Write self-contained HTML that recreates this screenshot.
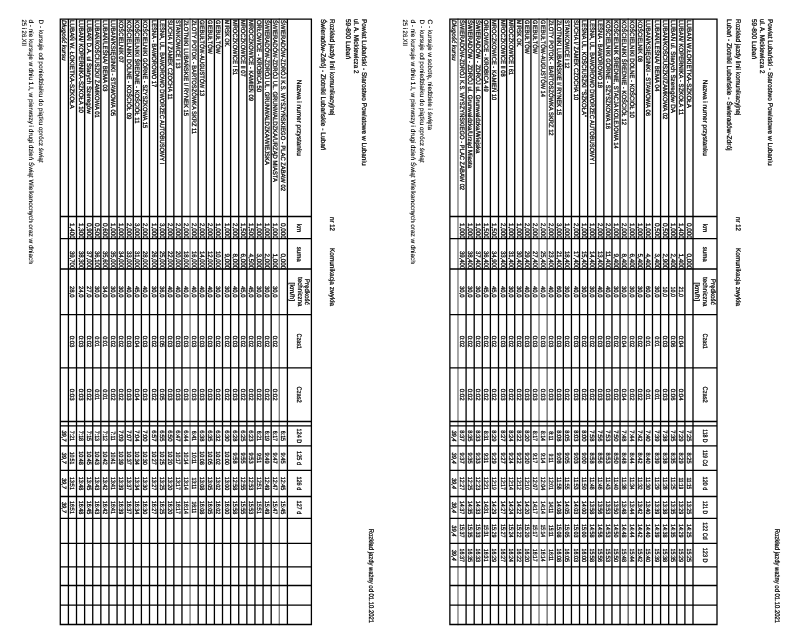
<!DOCTYPE html>
<html lang="pl">
<head>
<meta charset="utf-8">
<title>Rozkład jazdy linii komunikacyjnej nr 12 – Powiat Lubański</title>
<style>
html,body{margin:0;padding:0;background:#fff;}
body{width:800px;height:644px;overflow:hidden;}
svg{display:block;font-family:"Liberation Sans",sans-serif;}
text{white-space:pre;}
</style>
</head>
<body>
<svg width="800" height="644" viewBox="0 0 800 644">
<rect width="800" height="644" fill="#fff"/>
<defs><filter id="soft" x="-2%" y="-2%" width="104%" height="104%"><feGaussianBlur stdDeviation="0.35"/></filter></defs>
<g transform="translate(800,0) rotate(90)">
<path d="M18.40 171.83H625.15" fill="none" stroke="#555" stroke-width="1.3"/>
<path d="M18.40 252.87H625.15" fill="none" stroke="#666" stroke-width="1.3"/>
<path d="M18.40 260.98H625.15" fill="none" stroke="#7a7a7a" stroke-width="1.3"/>
<path d="M18.40 342.02H625.15" fill="none" stroke="#7a7a7a" stroke-width="1.3"/>
<path d="M18.40 83.00H625.15M18.40 107.00H625.15M18.40 115.10H625.15M18.40 123.21H625.15M18.40 131.31H625.15M18.40 139.42H625.15M18.40 147.52H625.15M18.40 155.62H625.15M18.40 163.73H625.15M18.40 179.94H625.15M18.40 188.04H625.15M18.40 196.14H625.15M18.40 204.25H625.15M18.40 212.35H625.15M18.40 220.46H625.15M18.40 228.56H625.15M18.40 236.66H625.15M18.40 244.77H625.15M18.40 269.08H625.15M18.40 277.18H625.15M18.40 285.29H625.15M18.40 293.39H625.15M18.40 301.50H625.15M18.40 309.60H625.15M18.40 317.70H625.15M18.40 325.81H625.15M18.40 333.91H625.15M18.40 350.12H625.15M19.05 83.00V350.12M216.50 83.00V350.12M238.60 83.00V350.12M269.00 83.00V350.12M314.60 83.00V350.12M367.80 83.00V350.12M421.50 83.00V350.12M425.90 83.00V350.12M445.90 83.00V350.12M470.30 83.00V350.12M496.50 83.00V350.12M518.30 83.00V350.12M543.40 83.00V350.12M566.90 83.00V350.12M585.50 83.00V350.12M605.10 83.00V350.12M624.50 83.00V350.12" fill="none" stroke="#000" stroke-width="1.3"/>
<path d="M18.40 520.71H625.15" fill="none" stroke="#7a7a7a" stroke-width="1.3"/>
<path d="M18.40 609.93H625.15" fill="none" stroke="#7a7a7a" stroke-width="1.3"/>
<path d="M18.40 488.60H625.15M18.40 512.60H625.15M18.40 528.82H625.15M18.40 536.93H625.15M18.40 545.04H625.15M18.40 553.15H625.15M18.40 561.27H625.15M18.40 569.38H625.15M18.40 577.49H625.15M18.40 585.60H625.15M18.40 593.71H625.15M18.40 601.82H625.15M18.40 618.04H625.15M18.40 626.15H625.15M18.40 634.26H625.15M18.40 642.38H625.15M18.40 650.49H625.15M18.40 658.60H625.15M18.40 666.71H625.15M18.40 674.82H625.15M18.40 682.93H625.15M18.40 691.04H625.15M18.40 699.15H625.15M18.40 707.26H625.15M18.40 715.38H625.15M18.40 723.49H625.15M18.40 731.60H625.15M18.40 739.71H625.15M19.05 488.60V739.71M216.50 488.60V739.71M238.60 488.60V739.71M269.00 488.60V739.71M314.60 488.60V739.71M367.80 488.60V739.71M421.50 488.60V739.71M425.90 488.60V739.71M445.90 488.60V739.71M470.30 488.60V739.71M496.50 488.60V739.71M518.30 488.60V739.71M543.40 488.60V739.71M566.90 488.60V739.71M585.50 488.60V739.71M605.10 488.60V739.71M624.50 488.60V739.71" fill="none" stroke="#000" stroke-width="1.3"/>
</g>
<g filter="url(#soft)">
<g transform="translate(800,0) rotate(90)" text-rendering="geometricPrecision" stroke="#000" stroke-width="0.26" stroke-linejoin="round">
<text x="623.00" y="25.04" font-size="6.8" text-anchor="end" textLength="94.20" lengthAdjust="spacingAndGlyphs" fill="#000">Rozkład jazdy ważny od 01.10.2021</text>
<text x="19.00" y="32.04" font-size="6.8" textLength="146.50" lengthAdjust="spacingAndGlyphs" fill="#000">Powiat Lubański - Starostwo Powiatowe w Lubaniu</text>
<text x="19.00" y="39.79" font-size="6.8" textLength="54.50" lengthAdjust="spacingAndGlyphs" fill="#000">ul. A. Mickiewicza 2</text>
<text x="19.00" y="48.04" font-size="6.8" textLength="40.00" lengthAdjust="spacingAndGlyphs" fill="#000">59-800 Lubań</text>
<text x="19.00" y="63.84" font-size="6.8" textLength="96.50" lengthAdjust="spacingAndGlyphs" fill="#000">Rozkład jazdy linii komunikacyjnej</text>
<text x="19.00" y="73.04" font-size="6.8" textLength="131.50" lengthAdjust="spacingAndGlyphs" fill="#000">Lubań - Złotniki Lubańskie - Świeradów-Zdrój</text>
<text x="217.00" y="63.84" font-size="6.8" textLength="14.00" lengthAdjust="spacingAndGlyphs" fill="#000">nr 12</text>
<text x="248.00" y="63.84" font-size="6.8" textLength="58.00" lengthAdjust="spacingAndGlyphs" fill="#000">Komunikacja zwykła</text>
<clipPath id="ck1"><rect x="216.5" y="83.0" width="22.099999999999994" height="267.12"/></clipPath>
<clipPath id="cs1"><rect x="238.6" y="83.0" width="30.400000000000006" height="267.12"/></clipPath>
<text x="117.78" y="96.98" font-size="6.6" text-anchor="middle" textLength="76.00" lengthAdjust="spacingAndGlyphs" fill="#000">Nazwa i numer przystanku</text>
<text x="228.05" y="96.98" font-size="6.6" text-anchor="middle" textLength="8.50" lengthAdjust="spacingAndGlyphs" fill="#000">km</text>
<text x="254.20" y="96.98" font-size="6.6" text-anchor="middle" textLength="15.00" lengthAdjust="spacingAndGlyphs" fill="#000">suma</text>
<text x="291.80" y="89.18" font-size="6.6" text-anchor="middle" textLength="26.00" lengthAdjust="spacingAndGlyphs" fill="#000">Prędkość</text>
<text x="291.80" y="96.88" font-size="6.6" text-anchor="middle" textLength="29.50" lengthAdjust="spacingAndGlyphs" fill="#000">techniczna</text>
<text x="291.80" y="104.58" font-size="6.6" text-anchor="middle" textLength="18.50" lengthAdjust="spacingAndGlyphs" fill="#000">[km/h]</text>
<text x="341.20" y="96.98" font-size="6.6" text-anchor="middle" textLength="15.30" lengthAdjust="spacingAndGlyphs" fill="#000">Czas1</text>
<text x="394.65" y="96.98" font-size="6.6" text-anchor="middle" textLength="16.20" lengthAdjust="spacingAndGlyphs" fill="#000">Czas2</text>
<text x="435.90" y="96.98" font-size="6.5" text-anchor="middle" textLength="13.37" lengthAdjust="spacingAndGlyphs" fill="#000">118 D</text>
<text x="458.10" y="96.98" font-size="6.5" text-anchor="middle" textLength="16.05" lengthAdjust="spacingAndGlyphs" fill="#000">119 Cd</text>
<text x="483.40" y="96.98" font-size="6.5" text-anchor="middle" textLength="13.96" lengthAdjust="spacingAndGlyphs" fill="#000">120 d</text>
<text x="507.40" y="96.98" font-size="6.5" text-anchor="middle" textLength="13.37" lengthAdjust="spacingAndGlyphs" fill="#000">121 D</text>
<text x="530.85" y="96.98" font-size="6.5" text-anchor="middle" textLength="17.39" lengthAdjust="spacingAndGlyphs" fill="#000">122 Cd</text>
<text x="555.15" y="96.98" font-size="6.5" text-anchor="middle" textLength="14.71" lengthAdjust="spacingAndGlyphs" fill="#000">123 D</text>
<text x="20.00" y="113.05" font-size="6.3" textLength="88.10" lengthAdjust="spacingAndGlyphs" fill="#000">LUBAŃ W.ŁOKIETKA-SZKOŁA</text>
<g clip-path="url(#ck1)">
<text x="238.90" y="113.05" font-size="6.5" text-anchor="end" textLength="15.80" lengthAdjust="spacingAndGlyphs" fill="#000">0,000</text>
</g>
<g clip-path="url(#cs1)">
<text x="269.30" y="113.05" font-size="6.5" text-anchor="end" textLength="15.80" lengthAdjust="spacingAndGlyphs" fill="#000">0,000</text>
</g>
<text x="435.90" y="113.05" font-size="6.2" text-anchor="middle" textLength="11.15" lengthAdjust="spacingAndGlyphs" fill="#000">7:25</text>
<text x="458.10" y="113.05" font-size="6.2" text-anchor="middle" textLength="11.15" lengthAdjust="spacingAndGlyphs" fill="#000">8:25</text>
<text x="483.40" y="113.05" font-size="6.2" text-anchor="middle" textLength="11.80" lengthAdjust="spacingAndGlyphs" fill="#000">11:15</text>
<text x="507.40" y="113.05" font-size="6.2" text-anchor="middle" textLength="13.50" lengthAdjust="spacingAndGlyphs" fill="#000">13:25</text>
<text x="530.85" y="113.05" font-size="6.2" text-anchor="middle" textLength="13.50" lengthAdjust="spacingAndGlyphs" fill="#000">14:25</text>
<text x="555.15" y="113.05" font-size="6.2" text-anchor="middle" textLength="13.50" lengthAdjust="spacingAndGlyphs" fill="#000">15:25</text>
<text x="20.00" y="121.15" font-size="6.3" textLength="95.00" lengthAdjust="spacingAndGlyphs" fill="#000">LUBAŃ/ KOPERNIKA - SZKOŁA 11</text>
<g clip-path="url(#ck1)">
<text x="238.90" y="121.15" font-size="6.5" text-anchor="end" textLength="15.80" lengthAdjust="spacingAndGlyphs" fill="#000">1,400</text>
</g>
<g clip-path="url(#cs1)">
<text x="269.30" y="121.15" font-size="6.5" text-anchor="end" textLength="15.80" lengthAdjust="spacingAndGlyphs" fill="#000">1,400</text>
</g>
<text x="291.80" y="121.15" font-size="6.2" text-anchor="middle" textLength="10.70" lengthAdjust="spacingAndGlyphs" fill="#000">21,0</text>
<text x="341.50" y="121.15" font-size="6.2" text-anchor="middle" textLength="11.60" lengthAdjust="spacingAndGlyphs" fill="#000">0:04</text>
<text x="394.65" y="121.15" font-size="6.2" text-anchor="middle" textLength="11.60" lengthAdjust="spacingAndGlyphs" fill="#000">0:04</text>
<text x="435.90" y="121.15" font-size="6.2" text-anchor="middle" textLength="11.15" lengthAdjust="spacingAndGlyphs" fill="#000">7:29</text>
<text x="458.10" y="121.15" font-size="6.2" text-anchor="middle" textLength="11.15" lengthAdjust="spacingAndGlyphs" fill="#000">8:29</text>
<text x="483.40" y="121.15" font-size="6.2" text-anchor="middle" textLength="11.80" lengthAdjust="spacingAndGlyphs" fill="#000">11:19</text>
<text x="507.40" y="121.15" font-size="6.2" text-anchor="middle" textLength="13.50" lengthAdjust="spacingAndGlyphs" fill="#000">13:29</text>
<text x="530.85" y="121.15" font-size="6.2" text-anchor="middle" textLength="13.50" lengthAdjust="spacingAndGlyphs" fill="#000">14:29</text>
<text x="555.15" y="121.15" font-size="6.2" text-anchor="middle" textLength="13.50" lengthAdjust="spacingAndGlyphs" fill="#000">15:29</text>
<text x="20.00" y="129.26" font-size="6.3" textLength="93.00" lengthAdjust="spacingAndGlyphs" fill="#000">LUBAŃ ul. Starych Szeregów DA</text>
<g clip-path="url(#ck1)">
<text x="238.90" y="129.26" font-size="6.5" text-anchor="end" textLength="15.80" lengthAdjust="spacingAndGlyphs" fill="#000">1,000</text>
</g>
<g clip-path="url(#cs1)">
<text x="269.30" y="129.26" font-size="6.5" text-anchor="end" textLength="15.80" lengthAdjust="spacingAndGlyphs" fill="#000">2,400</text>
</g>
<text x="291.80" y="129.26" font-size="6.2" text-anchor="middle" textLength="10.70" lengthAdjust="spacingAndGlyphs" fill="#000">10,0</text>
<text x="341.50" y="129.26" font-size="6.2" text-anchor="middle" textLength="11.60" lengthAdjust="spacingAndGlyphs" fill="#000">0:06</text>
<text x="394.65" y="129.26" font-size="6.2" text-anchor="middle" textLength="11.60" lengthAdjust="spacingAndGlyphs" fill="#000">0:06</text>
<text x="435.90" y="129.26" font-size="6.2" text-anchor="middle" textLength="11.15" lengthAdjust="spacingAndGlyphs" fill="#000">7:35</text>
<text x="458.10" y="129.26" font-size="6.2" text-anchor="middle" textLength="11.15" lengthAdjust="spacingAndGlyphs" fill="#000">8:35</text>
<text x="483.40" y="129.26" font-size="6.2" text-anchor="middle" textLength="12.65" lengthAdjust="spacingAndGlyphs" fill="#000">11:25</text>
<text x="507.40" y="129.26" font-size="6.2" text-anchor="middle" textLength="13.50" lengthAdjust="spacingAndGlyphs" fill="#000">13:35</text>
<text x="530.85" y="129.26" font-size="6.2" text-anchor="middle" textLength="13.50" lengthAdjust="spacingAndGlyphs" fill="#000">14:35</text>
<text x="555.15" y="129.26" font-size="6.2" text-anchor="middle" textLength="13.50" lengthAdjust="spacingAndGlyphs" fill="#000">15:35</text>
<text x="20.00" y="137.36" font-size="6.3" textLength="99.40" lengthAdjust="spacingAndGlyphs" fill="#000">LUBAŃ/KOŚCIUSZKI/ZAMKOWA 02</text>
<g clip-path="url(#ck1)">
<text x="238.90" y="137.36" font-size="6.5" text-anchor="end" textLength="15.80" lengthAdjust="spacingAndGlyphs" fill="#000">0,500</text>
</g>
<g clip-path="url(#cs1)">
<text x="269.30" y="137.36" font-size="6.5" text-anchor="end" textLength="15.80" lengthAdjust="spacingAndGlyphs" fill="#000">2,900</text>
</g>
<text x="291.80" y="137.36" font-size="6.2" text-anchor="middle" textLength="10.70" lengthAdjust="spacingAndGlyphs" fill="#000">10,0</text>
<text x="341.50" y="137.36" font-size="6.2" text-anchor="middle" textLength="11.60" lengthAdjust="spacingAndGlyphs" fill="#000">0:03</text>
<text x="394.65" y="137.36" font-size="6.2" text-anchor="middle" textLength="11.60" lengthAdjust="spacingAndGlyphs" fill="#000">0:03</text>
<text x="435.90" y="137.36" font-size="6.2" text-anchor="middle" textLength="11.15" lengthAdjust="spacingAndGlyphs" fill="#000">7:38</text>
<text x="458.10" y="137.36" font-size="6.2" text-anchor="middle" textLength="11.15" lengthAdjust="spacingAndGlyphs" fill="#000">8:38</text>
<text x="483.40" y="137.36" font-size="6.2" text-anchor="middle" textLength="12.65" lengthAdjust="spacingAndGlyphs" fill="#000">11:28</text>
<text x="507.40" y="137.36" font-size="6.2" text-anchor="middle" textLength="13.50" lengthAdjust="spacingAndGlyphs" fill="#000">13:38</text>
<text x="530.85" y="137.36" font-size="6.2" text-anchor="middle" textLength="13.50" lengthAdjust="spacingAndGlyphs" fill="#000">14:38</text>
<text x="555.15" y="137.36" font-size="6.2" text-anchor="middle" textLength="13.50" lengthAdjust="spacingAndGlyphs" fill="#000">15:38</text>
<text x="20.00" y="145.47" font-size="6.3" textLength="71.30" lengthAdjust="spacingAndGlyphs" fill="#000">LUBAŃ/LEŚNA/ BEMA 04</text>
<g clip-path="url(#ck1)">
<text x="238.90" y="145.47" font-size="6.5" text-anchor="end" textLength="15.80" lengthAdjust="spacingAndGlyphs" fill="#000">0,500</text>
</g>
<g clip-path="url(#cs1)">
<text x="269.30" y="145.47" font-size="6.5" text-anchor="end" textLength="15.80" lengthAdjust="spacingAndGlyphs" fill="#000">3,400</text>
</g>
<text x="291.80" y="145.47" font-size="6.2" text-anchor="middle" textLength="11.60" lengthAdjust="spacingAndGlyphs" fill="#000">30,0</text>
<text x="341.50" y="145.47" font-size="6.2" text-anchor="middle" textLength="10.70" lengthAdjust="spacingAndGlyphs" fill="#000">0:01</text>
<text x="394.65" y="145.47" font-size="6.2" text-anchor="middle" textLength="10.70" lengthAdjust="spacingAndGlyphs" fill="#000">0:01</text>
<text x="435.90" y="145.47" font-size="6.2" text-anchor="middle" textLength="11.15" lengthAdjust="spacingAndGlyphs" fill="#000">7:39</text>
<text x="458.10" y="145.47" font-size="6.2" text-anchor="middle" textLength="11.15" lengthAdjust="spacingAndGlyphs" fill="#000">8:39</text>
<text x="483.40" y="145.47" font-size="6.2" text-anchor="middle" textLength="12.65" lengthAdjust="spacingAndGlyphs" fill="#000">11:29</text>
<text x="507.40" y="145.47" font-size="6.2" text-anchor="middle" textLength="13.50" lengthAdjust="spacingAndGlyphs" fill="#000">13:39</text>
<text x="530.85" y="145.47" font-size="6.2" text-anchor="middle" textLength="13.50" lengthAdjust="spacingAndGlyphs" fill="#000">14:39</text>
<text x="555.15" y="145.47" font-size="6.2" text-anchor="middle" textLength="13.50" lengthAdjust="spacingAndGlyphs" fill="#000">15:39</text>
<text x="20.00" y="153.57" font-size="6.3" textLength="96.10" lengthAdjust="spacingAndGlyphs" fill="#000">LUBAŃ/KSIĘGINKI - STAWOWA 06</text>
<g clip-path="url(#ck1)">
<text x="238.90" y="153.57" font-size="6.5" text-anchor="end" textLength="15.80" lengthAdjust="spacingAndGlyphs" fill="#000">1,000</text>
</g>
<g clip-path="url(#cs1)">
<text x="269.30" y="153.57" font-size="6.5" text-anchor="end" textLength="15.80" lengthAdjust="spacingAndGlyphs" fill="#000">4,400</text>
</g>
<text x="291.80" y="153.57" font-size="6.2" text-anchor="middle" textLength="11.60" lengthAdjust="spacingAndGlyphs" fill="#000">60,0</text>
<text x="341.50" y="153.57" font-size="6.2" text-anchor="middle" textLength="10.70" lengthAdjust="spacingAndGlyphs" fill="#000">0:01</text>
<text x="394.65" y="153.57" font-size="6.2" text-anchor="middle" textLength="10.70" lengthAdjust="spacingAndGlyphs" fill="#000">0:01</text>
<text x="435.90" y="153.57" font-size="6.2" text-anchor="middle" textLength="11.15" lengthAdjust="spacingAndGlyphs" fill="#000">7:40</text>
<text x="458.10" y="153.57" font-size="6.2" text-anchor="middle" textLength="11.15" lengthAdjust="spacingAndGlyphs" fill="#000">8:40</text>
<text x="483.40" y="153.57" font-size="6.2" text-anchor="middle" textLength="12.65" lengthAdjust="spacingAndGlyphs" fill="#000">11:30</text>
<text x="507.40" y="153.57" font-size="6.2" text-anchor="middle" textLength="13.50" lengthAdjust="spacingAndGlyphs" fill="#000">13:40</text>
<text x="530.85" y="153.57" font-size="6.2" text-anchor="middle" textLength="13.50" lengthAdjust="spacingAndGlyphs" fill="#000">14:40</text>
<text x="555.15" y="153.57" font-size="6.2" text-anchor="middle" textLength="13.50" lengthAdjust="spacingAndGlyphs" fill="#000">15:40</text>
<text x="20.00" y="161.67" font-size="6.3" textLength="42.00" lengthAdjust="spacingAndGlyphs" fill="#000">KOŚCIELNIK 08</text>
<g clip-path="url(#ck1)">
<text x="238.90" y="161.67" font-size="6.5" text-anchor="end" textLength="15.80" lengthAdjust="spacingAndGlyphs" fill="#000">1,000</text>
</g>
<g clip-path="url(#cs1)">
<text x="269.30" y="161.67" font-size="6.5" text-anchor="end" textLength="15.80" lengthAdjust="spacingAndGlyphs" fill="#000">5,400</text>
</g>
<text x="291.80" y="161.67" font-size="6.2" text-anchor="middle" textLength="11.60" lengthAdjust="spacingAndGlyphs" fill="#000">30,0</text>
<text x="341.50" y="161.67" font-size="6.2" text-anchor="middle" textLength="11.60" lengthAdjust="spacingAndGlyphs" fill="#000">0:02</text>
<text x="394.65" y="161.67" font-size="6.2" text-anchor="middle" textLength="11.60" lengthAdjust="spacingAndGlyphs" fill="#000">0:02</text>
<text x="435.90" y="161.67" font-size="6.2" text-anchor="middle" textLength="11.15" lengthAdjust="spacingAndGlyphs" fill="#000">7:42</text>
<text x="458.10" y="161.67" font-size="6.2" text-anchor="middle" textLength="11.15" lengthAdjust="spacingAndGlyphs" fill="#000">8:42</text>
<text x="483.40" y="161.67" font-size="6.2" text-anchor="middle" textLength="12.65" lengthAdjust="spacingAndGlyphs" fill="#000">11:32</text>
<text x="507.40" y="161.67" font-size="6.2" text-anchor="middle" textLength="13.50" lengthAdjust="spacingAndGlyphs" fill="#000">13:42</text>
<text x="530.85" y="161.67" font-size="6.2" text-anchor="middle" textLength="13.50" lengthAdjust="spacingAndGlyphs" fill="#000">14:42</text>
<text x="555.15" y="161.67" font-size="6.2" text-anchor="middle" textLength="13.50" lengthAdjust="spacingAndGlyphs" fill="#000">15:42</text>
<text x="20.00" y="169.78" font-size="6.3" textLength="97.80" lengthAdjust="spacingAndGlyphs" fill="#000">KOŚCIELNIKI DOLNE - KOŚCIÓŁ 10</text>
<g clip-path="url(#ck1)">
<text x="238.90" y="169.78" font-size="6.5" text-anchor="end" textLength="15.80" lengthAdjust="spacingAndGlyphs" fill="#000">1,000</text>
</g>
<g clip-path="url(#cs1)">
<text x="269.30" y="169.78" font-size="6.5" text-anchor="end" textLength="15.80" lengthAdjust="spacingAndGlyphs" fill="#000">6,400</text>
</g>
<text x="291.80" y="169.78" font-size="6.2" text-anchor="middle" textLength="11.60" lengthAdjust="spacingAndGlyphs" fill="#000">30,0</text>
<text x="341.50" y="169.78" font-size="6.2" text-anchor="middle" textLength="11.60" lengthAdjust="spacingAndGlyphs" fill="#000">0:02</text>
<text x="394.65" y="169.78" font-size="6.2" text-anchor="middle" textLength="11.60" lengthAdjust="spacingAndGlyphs" fill="#000">0:02</text>
<text x="435.90" y="169.78" font-size="6.2" text-anchor="middle" textLength="11.15" lengthAdjust="spacingAndGlyphs" fill="#000">7:44</text>
<text x="458.10" y="169.78" font-size="6.2" text-anchor="middle" textLength="11.15" lengthAdjust="spacingAndGlyphs" fill="#000">8:44</text>
<text x="483.40" y="169.78" font-size="6.2" text-anchor="middle" textLength="12.65" lengthAdjust="spacingAndGlyphs" fill="#000">11:34</text>
<text x="507.40" y="169.78" font-size="6.2" text-anchor="middle" textLength="13.50" lengthAdjust="spacingAndGlyphs" fill="#000">13:44</text>
<text x="530.85" y="169.78" font-size="6.2" text-anchor="middle" textLength="13.50" lengthAdjust="spacingAndGlyphs" fill="#000">14:44</text>
<text x="555.15" y="169.78" font-size="6.2" text-anchor="middle" textLength="13.50" lengthAdjust="spacingAndGlyphs" fill="#000">15:44</text>
<text x="20.00" y="177.88" font-size="6.3" textLength="105.10" lengthAdjust="spacingAndGlyphs" fill="#000">KOŚCIELNIKI ŚREDNIE - KOŚCIÓŁ 12</text>
<g clip-path="url(#ck1)">
<text x="238.90" y="177.88" font-size="6.5" text-anchor="end" textLength="15.80" lengthAdjust="spacingAndGlyphs" fill="#000">2,000</text>
</g>
<g clip-path="url(#cs1)">
<text x="269.30" y="177.88" font-size="6.5" text-anchor="end" textLength="15.80" lengthAdjust="spacingAndGlyphs" fill="#000">8,400</text>
</g>
<text x="291.80" y="177.88" font-size="6.2" text-anchor="middle" textLength="11.60" lengthAdjust="spacingAndGlyphs" fill="#000">30,0</text>
<text x="341.50" y="177.88" font-size="6.2" text-anchor="middle" textLength="11.60" lengthAdjust="spacingAndGlyphs" fill="#000">0:04</text>
<text x="394.65" y="177.88" font-size="6.2" text-anchor="middle" textLength="11.60" lengthAdjust="spacingAndGlyphs" fill="#000">0:04</text>
<text x="435.90" y="177.88" font-size="6.2" text-anchor="middle" textLength="11.15" lengthAdjust="spacingAndGlyphs" fill="#000">7:48</text>
<text x="458.10" y="177.88" font-size="6.2" text-anchor="middle" textLength="11.15" lengthAdjust="spacingAndGlyphs" fill="#000">8:48</text>
<text x="483.40" y="177.88" font-size="6.2" text-anchor="middle" textLength="12.65" lengthAdjust="spacingAndGlyphs" fill="#000">11:38</text>
<text x="507.40" y="177.88" font-size="6.2" text-anchor="middle" textLength="13.50" lengthAdjust="spacingAndGlyphs" fill="#000">13:48</text>
<text x="530.85" y="177.88" font-size="6.2" text-anchor="middle" textLength="13.50" lengthAdjust="spacingAndGlyphs" fill="#000">14:48</text>
<text x="555.15" y="177.88" font-size="6.2" text-anchor="middle" textLength="13.50" lengthAdjust="spacingAndGlyphs" fill="#000">15:48</text>
<text x="20.00" y="185.99" font-size="6.3" textLength="128.70" lengthAdjust="spacingAndGlyphs" fill="#000">KOŚCIELNIK ŚREDNIE, STACJA KOLEJOWA 14</text>
<g clip-path="url(#ck1)">
<text x="238.90" y="185.99" font-size="6.5" text-anchor="end" textLength="15.80" lengthAdjust="spacingAndGlyphs" fill="#000">1,000</text>
</g>
<g clip-path="url(#cs1)">
<text x="269.30" y="185.99" font-size="6.5" text-anchor="end" textLength="15.80" lengthAdjust="spacingAndGlyphs" fill="#000">9,400</text>
</g>
<text x="291.80" y="185.99" font-size="6.2" text-anchor="middle" textLength="11.60" lengthAdjust="spacingAndGlyphs" fill="#000">30,0</text>
<text x="341.50" y="185.99" font-size="6.2" text-anchor="middle" textLength="11.60" lengthAdjust="spacingAndGlyphs" fill="#000">0:02</text>
<text x="394.65" y="185.99" font-size="6.2" text-anchor="middle" textLength="11.60" lengthAdjust="spacingAndGlyphs" fill="#000">0:02</text>
<text x="435.90" y="185.99" font-size="6.2" text-anchor="middle" textLength="11.15" lengthAdjust="spacingAndGlyphs" fill="#000">7:50</text>
<text x="458.10" y="185.99" font-size="6.2" text-anchor="middle" textLength="11.15" lengthAdjust="spacingAndGlyphs" fill="#000">8:50</text>
<text x="483.40" y="185.99" font-size="6.2" text-anchor="middle" textLength="12.65" lengthAdjust="spacingAndGlyphs" fill="#000">11:40</text>
<text x="507.40" y="185.99" font-size="6.2" text-anchor="middle" textLength="13.50" lengthAdjust="spacingAndGlyphs" fill="#000">13:50</text>
<text x="530.85" y="185.99" font-size="6.2" text-anchor="middle" textLength="13.50" lengthAdjust="spacingAndGlyphs" fill="#000">14:50</text>
<text x="555.15" y="185.99" font-size="6.2" text-anchor="middle" textLength="13.50" lengthAdjust="spacingAndGlyphs" fill="#000">15:50</text>
<text x="20.00" y="194.09" font-size="6.3" textLength="109.10" lengthAdjust="spacingAndGlyphs" fill="#000">KOŚCIELNIKI GÓRNE - SZYSZKOWA 16</text>
<g clip-path="url(#ck1)">
<text x="238.90" y="194.09" font-size="6.5" text-anchor="end" textLength="15.80" lengthAdjust="spacingAndGlyphs" fill="#000">2,000</text>
</g>
<g clip-path="url(#cs1)">
<text x="269.30" y="194.09" font-size="6.5" text-anchor="end" textLength="18.40" lengthAdjust="spacingAndGlyphs" fill="#000">11,400</text>
</g>
<text x="291.80" y="194.09" font-size="6.2" text-anchor="middle" textLength="11.60" lengthAdjust="spacingAndGlyphs" fill="#000">40,0</text>
<text x="341.50" y="194.09" font-size="6.2" text-anchor="middle" textLength="11.60" lengthAdjust="spacingAndGlyphs" fill="#000">0:03</text>
<text x="394.65" y="194.09" font-size="6.2" text-anchor="middle" textLength="11.60" lengthAdjust="spacingAndGlyphs" fill="#000">0:03</text>
<text x="435.90" y="194.09" font-size="6.2" text-anchor="middle" textLength="11.15" lengthAdjust="spacingAndGlyphs" fill="#000">7:53</text>
<text x="458.10" y="194.09" font-size="6.2" text-anchor="middle" textLength="11.15" lengthAdjust="spacingAndGlyphs" fill="#000">8:53</text>
<text x="483.40" y="194.09" font-size="6.2" text-anchor="middle" textLength="12.65" lengthAdjust="spacingAndGlyphs" fill="#000">11:43</text>
<text x="507.40" y="194.09" font-size="6.2" text-anchor="middle" textLength="13.50" lengthAdjust="spacingAndGlyphs" fill="#000">13:53</text>
<text x="530.85" y="194.09" font-size="6.2" text-anchor="middle" textLength="13.50" lengthAdjust="spacingAndGlyphs" fill="#000">14:53</text>
<text x="555.15" y="194.09" font-size="6.2" text-anchor="middle" textLength="13.50" lengthAdjust="spacingAndGlyphs" fill="#000">15:53</text>
<text x="20.00" y="202.19" font-size="6.3" textLength="68.00" lengthAdjust="spacingAndGlyphs" fill="#000">LEŚNA - BAWOROWO 18</text>
<g clip-path="url(#ck1)">
<text x="238.90" y="202.19" font-size="6.5" text-anchor="end" textLength="15.80" lengthAdjust="spacingAndGlyphs" fill="#000">2,000</text>
</g>
<g clip-path="url(#cs1)">
<text x="269.30" y="202.19" font-size="6.5" text-anchor="end" textLength="18.40" lengthAdjust="spacingAndGlyphs" fill="#000">13,400</text>
</g>
<text x="291.80" y="202.19" font-size="6.2" text-anchor="middle" textLength="11.60" lengthAdjust="spacingAndGlyphs" fill="#000">40,0</text>
<text x="341.50" y="202.19" font-size="6.2" text-anchor="middle" textLength="11.60" lengthAdjust="spacingAndGlyphs" fill="#000">0:03</text>
<text x="394.65" y="202.19" font-size="6.2" text-anchor="middle" textLength="11.60" lengthAdjust="spacingAndGlyphs" fill="#000">0:03</text>
<text x="435.90" y="202.19" font-size="6.2" text-anchor="middle" textLength="11.15" lengthAdjust="spacingAndGlyphs" fill="#000">7:56</text>
<text x="458.10" y="202.19" font-size="6.2" text-anchor="middle" textLength="11.15" lengthAdjust="spacingAndGlyphs" fill="#000">8:56</text>
<text x="483.40" y="202.19" font-size="6.2" text-anchor="middle" textLength="12.65" lengthAdjust="spacingAndGlyphs" fill="#000">11:46</text>
<text x="507.40" y="202.19" font-size="6.2" text-anchor="middle" textLength="13.50" lengthAdjust="spacingAndGlyphs" fill="#000">13:56</text>
<text x="530.85" y="202.19" font-size="6.2" text-anchor="middle" textLength="13.50" lengthAdjust="spacingAndGlyphs" fill="#000">14:56</text>
<text x="555.15" y="202.19" font-size="6.2" text-anchor="middle" textLength="13.50" lengthAdjust="spacingAndGlyphs" fill="#000">15:56</text>
<text x="20.00" y="210.30" font-size="6.3" textLength="144.10" lengthAdjust="spacingAndGlyphs" fill="#000">LEŚNA, UL. BAWOROWO DWORZEC AUTOBUSOWY I</text>
<g clip-path="url(#ck1)">
<text x="238.90" y="210.30" font-size="6.5" text-anchor="end" textLength="15.80" lengthAdjust="spacingAndGlyphs" fill="#000">1,000</text>
</g>
<g clip-path="url(#cs1)">
<text x="269.30" y="210.30" font-size="6.5" text-anchor="end" textLength="18.40" lengthAdjust="spacingAndGlyphs" fill="#000">14,400</text>
</g>
<text x="291.80" y="210.30" font-size="6.2" text-anchor="middle" textLength="11.60" lengthAdjust="spacingAndGlyphs" fill="#000">30,0</text>
<text x="341.50" y="210.30" font-size="6.2" text-anchor="middle" textLength="11.60" lengthAdjust="spacingAndGlyphs" fill="#000">0:02</text>
<text x="394.65" y="210.30" font-size="6.2" text-anchor="middle" textLength="11.60" lengthAdjust="spacingAndGlyphs" fill="#000">0:02</text>
<text x="435.90" y="210.30" font-size="6.2" text-anchor="middle" textLength="11.15" lengthAdjust="spacingAndGlyphs" fill="#000">7:58</text>
<text x="458.10" y="210.30" font-size="6.2" text-anchor="middle" textLength="11.15" lengthAdjust="spacingAndGlyphs" fill="#000">8:58</text>
<text x="483.40" y="210.30" font-size="6.2" text-anchor="middle" textLength="12.65" lengthAdjust="spacingAndGlyphs" fill="#000">11:48</text>
<text x="507.40" y="210.30" font-size="6.2" text-anchor="middle" textLength="13.50" lengthAdjust="spacingAndGlyphs" fill="#000">13:58</text>
<text x="530.85" y="210.30" font-size="6.2" text-anchor="middle" textLength="13.50" lengthAdjust="spacingAndGlyphs" fill="#000">14:58</text>
<text x="555.15" y="210.30" font-size="6.2" text-anchor="middle" textLength="13.50" lengthAdjust="spacingAndGlyphs" fill="#000">15:58</text>
<text x="20.00" y="218.40" font-size="6.3" textLength="97.10" lengthAdjust="spacingAndGlyphs" fill="#000">LEŚNA UL. KOŚCIUSZKI "SZKOŁA"</text>
<g clip-path="url(#ck1)">
<text x="238.90" y="218.40" font-size="6.5" text-anchor="end" textLength="15.80" lengthAdjust="spacingAndGlyphs" fill="#000">1,000</text>
</g>
<g clip-path="url(#cs1)">
<text x="269.30" y="218.40" font-size="6.5" text-anchor="end" textLength="18.40" lengthAdjust="spacingAndGlyphs" fill="#000">15,400</text>
</g>
<text x="291.80" y="218.40" font-size="6.2" text-anchor="middle" textLength="11.60" lengthAdjust="spacingAndGlyphs" fill="#000">30,0</text>
<text x="341.50" y="218.40" font-size="6.2" text-anchor="middle" textLength="11.60" lengthAdjust="spacingAndGlyphs" fill="#000">0:02</text>
<text x="394.65" y="218.40" font-size="6.2" text-anchor="middle" textLength="11.60" lengthAdjust="spacingAndGlyphs" fill="#000">0:02</text>
<text x="435.90" y="218.40" font-size="6.2" text-anchor="middle" textLength="11.15" lengthAdjust="spacingAndGlyphs" fill="#000">8:00</text>
<text x="458.10" y="218.40" font-size="6.2" text-anchor="middle" textLength="11.15" lengthAdjust="spacingAndGlyphs" fill="#000">9:00</text>
<text x="483.40" y="218.40" font-size="6.2" text-anchor="middle" textLength="12.65" lengthAdjust="spacingAndGlyphs" fill="#000">11:50</text>
<text x="507.40" y="218.40" font-size="6.2" text-anchor="middle" textLength="13.50" lengthAdjust="spacingAndGlyphs" fill="#000">14:00</text>
<text x="530.85" y="218.40" font-size="6.2" text-anchor="middle" textLength="13.50" lengthAdjust="spacingAndGlyphs" fill="#000">15:00</text>
<text x="555.15" y="218.40" font-size="6.2" text-anchor="middle" textLength="13.50" lengthAdjust="spacingAndGlyphs" fill="#000">16:00</text>
<text x="20.00" y="226.51" font-size="6.3" textLength="80.20" lengthAdjust="spacingAndGlyphs" fill="#000">SUCHA I/ ZAMEK CZOCHA 10</text>
<g clip-path="url(#ck1)">
<text x="238.90" y="226.51" font-size="6.5" text-anchor="end" textLength="15.80" lengthAdjust="spacingAndGlyphs" fill="#000">2,000</text>
</g>
<g clip-path="url(#cs1)">
<text x="269.30" y="226.51" font-size="6.5" text-anchor="end" textLength="18.40" lengthAdjust="spacingAndGlyphs" fill="#000">17,400</text>
</g>
<text x="291.80" y="226.51" font-size="6.2" text-anchor="middle" textLength="11.60" lengthAdjust="spacingAndGlyphs" fill="#000">40,0</text>
<text x="341.50" y="226.51" font-size="6.2" text-anchor="middle" textLength="11.60" lengthAdjust="spacingAndGlyphs" fill="#000">0:03</text>
<text x="394.65" y="226.51" font-size="6.2" text-anchor="middle" textLength="11.60" lengthAdjust="spacingAndGlyphs" fill="#000">0:03</text>
<text x="435.90" y="226.51" font-size="6.2" text-anchor="middle" textLength="11.15" lengthAdjust="spacingAndGlyphs" fill="#000">8:03</text>
<text x="458.10" y="226.51" font-size="6.2" text-anchor="middle" textLength="11.15" lengthAdjust="spacingAndGlyphs" fill="#000">9:03</text>
<text x="483.40" y="226.51" font-size="6.2" text-anchor="middle" textLength="12.65" lengthAdjust="spacingAndGlyphs" fill="#000">11:53</text>
<text x="507.40" y="226.51" font-size="6.2" text-anchor="middle" textLength="13.50" lengthAdjust="spacingAndGlyphs" fill="#000">14:03</text>
<text x="530.85" y="226.51" font-size="6.2" text-anchor="middle" textLength="13.50" lengthAdjust="spacingAndGlyphs" fill="#000">15:03</text>
<text x="555.15" y="226.51" font-size="6.2" text-anchor="middle" textLength="13.50" lengthAdjust="spacingAndGlyphs" fill="#000">16:03</text>
<text x="20.00" y="234.61" font-size="6.3" textLength="48.50" lengthAdjust="spacingAndGlyphs" fill="#000">STANKOWICE I 12</text>
<g clip-path="url(#ck1)">
<text x="238.90" y="234.61" font-size="6.5" text-anchor="end" textLength="15.80" lengthAdjust="spacingAndGlyphs" fill="#000">1,000</text>
</g>
<g clip-path="url(#cs1)">
<text x="269.30" y="234.61" font-size="6.5" text-anchor="end" textLength="18.40" lengthAdjust="spacingAndGlyphs" fill="#000">18,400</text>
</g>
<text x="291.80" y="234.61" font-size="6.2" text-anchor="middle" textLength="11.60" lengthAdjust="spacingAndGlyphs" fill="#000">30,0</text>
<text x="341.50" y="234.61" font-size="6.2" text-anchor="middle" textLength="11.60" lengthAdjust="spacingAndGlyphs" fill="#000">0:02</text>
<text x="394.65" y="234.61" font-size="6.2" text-anchor="middle" textLength="11.60" lengthAdjust="spacingAndGlyphs" fill="#000">0:02</text>
<text x="435.90" y="234.61" font-size="6.2" text-anchor="middle" textLength="11.15" lengthAdjust="spacingAndGlyphs" fill="#000">8:05</text>
<text x="458.10" y="234.61" font-size="6.2" text-anchor="middle" textLength="11.15" lengthAdjust="spacingAndGlyphs" fill="#000">9:05</text>
<text x="483.40" y="234.61" font-size="6.2" text-anchor="middle" textLength="12.65" lengthAdjust="spacingAndGlyphs" fill="#000">11:55</text>
<text x="507.40" y="234.61" font-size="6.2" text-anchor="middle" textLength="13.50" lengthAdjust="spacingAndGlyphs" fill="#000">14:05</text>
<text x="530.85" y="234.61" font-size="6.2" text-anchor="middle" textLength="13.50" lengthAdjust="spacingAndGlyphs" fill="#000">15:05</text>
<text x="555.15" y="234.61" font-size="6.2" text-anchor="middle" textLength="13.50" lengthAdjust="spacingAndGlyphs" fill="#000">16:05</text>
<text x="20.00" y="242.71" font-size="6.3" textLength="95.30" lengthAdjust="spacingAndGlyphs" fill="#000">ZŁOTNIKI LUBAŃSKIE I/ RYNEK 15</text>
<g clip-path="url(#ck1)">
<text x="238.90" y="242.71" font-size="6.5" text-anchor="end" textLength="15.80" lengthAdjust="spacingAndGlyphs" fill="#000">3,000</text>
</g>
<g clip-path="url(#cs1)">
<text x="269.30" y="242.71" font-size="6.5" text-anchor="end" textLength="18.40" lengthAdjust="spacingAndGlyphs" fill="#000">21,400</text>
</g>
<text x="291.80" y="242.71" font-size="6.2" text-anchor="middle" textLength="11.60" lengthAdjust="spacingAndGlyphs" fill="#000">60,0</text>
<text x="341.50" y="242.71" font-size="6.2" text-anchor="middle" textLength="11.60" lengthAdjust="spacingAndGlyphs" fill="#000">0:03</text>
<text x="394.65" y="242.71" font-size="6.2" text-anchor="middle" textLength="11.60" lengthAdjust="spacingAndGlyphs" fill="#000">0:03</text>
<text x="435.90" y="242.71" font-size="6.2" text-anchor="middle" textLength="11.15" lengthAdjust="spacingAndGlyphs" fill="#000">8:08</text>
<text x="458.10" y="242.71" font-size="6.2" text-anchor="middle" textLength="11.15" lengthAdjust="spacingAndGlyphs" fill="#000">9:08</text>
<text x="483.40" y="242.71" font-size="6.2" text-anchor="middle" textLength="12.65" lengthAdjust="spacingAndGlyphs" fill="#000">11:58</text>
<text x="507.40" y="242.71" font-size="6.2" text-anchor="middle" textLength="13.50" lengthAdjust="spacingAndGlyphs" fill="#000">14:08</text>
<text x="530.85" y="242.71" font-size="6.2" text-anchor="middle" textLength="13.50" lengthAdjust="spacingAndGlyphs" fill="#000">15:08</text>
<text x="555.15" y="242.71" font-size="6.2" text-anchor="middle" textLength="13.50" lengthAdjust="spacingAndGlyphs" fill="#000">16:08</text>
<text x="20.00" y="250.82" font-size="6.3" textLength="115.60" lengthAdjust="spacingAndGlyphs" fill="#000">ZŁOTY POTOK - BARTOSZÓWKA SKRZ 12</text>
<g clip-path="url(#ck1)">
<text x="238.90" y="250.82" font-size="6.5" text-anchor="end" textLength="15.80" lengthAdjust="spacingAndGlyphs" fill="#000">2,000</text>
</g>
<g clip-path="url(#cs1)">
<text x="269.30" y="250.82" font-size="6.5" text-anchor="end" textLength="18.40" lengthAdjust="spacingAndGlyphs" fill="#000">23,400</text>
</g>
<text x="291.80" y="250.82" font-size="6.2" text-anchor="middle" textLength="11.60" lengthAdjust="spacingAndGlyphs" fill="#000">40,0</text>
<text x="341.50" y="250.82" font-size="6.2" text-anchor="middle" textLength="11.60" lengthAdjust="spacingAndGlyphs" fill="#000">0:03</text>
<text x="394.65" y="250.82" font-size="6.2" text-anchor="middle" textLength="11.60" lengthAdjust="spacingAndGlyphs" fill="#000">0:03</text>
<text x="435.90" y="250.82" font-size="6.2" text-anchor="middle" textLength="9.45" lengthAdjust="spacingAndGlyphs" fill="#000">8:11</text>
<text x="458.10" y="250.82" font-size="6.2" text-anchor="middle" textLength="9.45" lengthAdjust="spacingAndGlyphs" fill="#000">9:11</text>
<text x="483.40" y="250.82" font-size="6.2" text-anchor="middle" textLength="12.65" lengthAdjust="spacingAndGlyphs" fill="#000">12:01</text>
<text x="507.40" y="250.82" font-size="6.2" text-anchor="middle" textLength="11.80" lengthAdjust="spacingAndGlyphs" fill="#000">14:11</text>
<text x="530.85" y="250.82" font-size="6.2" text-anchor="middle" textLength="11.80" lengthAdjust="spacingAndGlyphs" fill="#000">15:11</text>
<text x="555.15" y="250.82" font-size="6.2" text-anchor="middle" textLength="11.80" lengthAdjust="spacingAndGlyphs" fill="#000">16:11</text>
<text x="20.00" y="258.92" font-size="6.3" textLength="76.90" lengthAdjust="spacingAndGlyphs" fill="#000">GIEBUŁTÓW-AUGUSTÓW 14</text>
<g clip-path="url(#ck1)">
<text x="238.90" y="258.92" font-size="6.5" text-anchor="end" textLength="15.80" lengthAdjust="spacingAndGlyphs" fill="#000">2,000</text>
</g>
<g clip-path="url(#cs1)">
<text x="269.30" y="258.92" font-size="6.5" text-anchor="end" textLength="18.40" lengthAdjust="spacingAndGlyphs" fill="#000">25,400</text>
</g>
<text x="291.80" y="258.92" font-size="6.2" text-anchor="middle" textLength="11.60" lengthAdjust="spacingAndGlyphs" fill="#000">40,0</text>
<text x="341.50" y="258.92" font-size="6.2" text-anchor="middle" textLength="11.60" lengthAdjust="spacingAndGlyphs" fill="#000">0:03</text>
<text x="394.65" y="258.92" font-size="6.2" text-anchor="middle" textLength="11.60" lengthAdjust="spacingAndGlyphs" fill="#000">0:03</text>
<text x="435.90" y="258.92" font-size="6.2" text-anchor="middle" textLength="10.30" lengthAdjust="spacingAndGlyphs" fill="#000">8:14</text>
<text x="458.10" y="258.92" font-size="6.2" text-anchor="middle" textLength="10.30" lengthAdjust="spacingAndGlyphs" fill="#000">9:14</text>
<text x="483.40" y="258.92" font-size="6.2" text-anchor="middle" textLength="13.50" lengthAdjust="spacingAndGlyphs" fill="#000">12:04</text>
<text x="507.40" y="258.92" font-size="6.2" text-anchor="middle" textLength="12.65" lengthAdjust="spacingAndGlyphs" fill="#000">14:14</text>
<text x="530.85" y="258.92" font-size="6.2" text-anchor="middle" textLength="12.65" lengthAdjust="spacingAndGlyphs" fill="#000">15:14</text>
<text x="555.15" y="258.92" font-size="6.2" text-anchor="middle" textLength="12.65" lengthAdjust="spacingAndGlyphs" fill="#000">16:14</text>
<text x="20.00" y="267.03" font-size="6.3" textLength="33.90" lengthAdjust="spacingAndGlyphs" fill="#000">GIEBUŁTÓW</text>
<g clip-path="url(#ck1)">
<text x="238.90" y="267.03" font-size="6.5" text-anchor="end" textLength="15.80" lengthAdjust="spacingAndGlyphs" fill="#000">2,000</text>
</g>
<g clip-path="url(#cs1)">
<text x="269.30" y="267.03" font-size="6.5" text-anchor="end" textLength="18.40" lengthAdjust="spacingAndGlyphs" fill="#000">27,400</text>
</g>
<text x="291.80" y="267.03" font-size="6.2" text-anchor="middle" textLength="11.60" lengthAdjust="spacingAndGlyphs" fill="#000">40,0</text>
<text x="341.50" y="267.03" font-size="6.2" text-anchor="middle" textLength="11.60" lengthAdjust="spacingAndGlyphs" fill="#000">0:03</text>
<text x="394.65" y="267.03" font-size="6.2" text-anchor="middle" textLength="11.60" lengthAdjust="spacingAndGlyphs" fill="#000">0:03</text>
<text x="435.90" y="267.03" font-size="6.2" text-anchor="middle" textLength="10.30" lengthAdjust="spacingAndGlyphs" fill="#000">8:17</text>
<text x="458.10" y="267.03" font-size="6.2" text-anchor="middle" textLength="10.30" lengthAdjust="spacingAndGlyphs" fill="#000">9:17</text>
<text x="483.40" y="267.03" font-size="6.2" text-anchor="middle" textLength="13.50" lengthAdjust="spacingAndGlyphs" fill="#000">12:07</text>
<text x="507.40" y="267.03" font-size="6.2" text-anchor="middle" textLength="12.65" lengthAdjust="spacingAndGlyphs" fill="#000">14:17</text>
<text x="530.85" y="267.03" font-size="6.2" text-anchor="middle" textLength="12.65" lengthAdjust="spacingAndGlyphs" fill="#000">15:17</text>
<text x="555.15" y="267.03" font-size="6.2" text-anchor="middle" textLength="12.65" lengthAdjust="spacingAndGlyphs" fill="#000">16:17</text>
<text x="20.00" y="275.13" font-size="6.3" textLength="33.90" lengthAdjust="spacingAndGlyphs" fill="#000">GIEBUŁTÓW</text>
<g clip-path="url(#ck1)">
<text x="238.90" y="275.13" font-size="6.5" text-anchor="end" textLength="15.80" lengthAdjust="spacingAndGlyphs" fill="#000">2,000</text>
</g>
<g clip-path="url(#cs1)">
<text x="269.30" y="275.13" font-size="6.5" text-anchor="end" textLength="18.40" lengthAdjust="spacingAndGlyphs" fill="#000">29,400</text>
</g>
<text x="291.80" y="275.13" font-size="6.2" text-anchor="middle" textLength="11.60" lengthAdjust="spacingAndGlyphs" fill="#000">40,0</text>
<text x="341.50" y="275.13" font-size="6.2" text-anchor="middle" textLength="11.60" lengthAdjust="spacingAndGlyphs" fill="#000">0:03</text>
<text x="394.65" y="275.13" font-size="6.2" text-anchor="middle" textLength="11.60" lengthAdjust="spacingAndGlyphs" fill="#000">0:03</text>
<text x="435.90" y="275.13" font-size="6.2" text-anchor="middle" textLength="11.15" lengthAdjust="spacingAndGlyphs" fill="#000">8:20</text>
<text x="458.10" y="275.13" font-size="6.2" text-anchor="middle" textLength="11.15" lengthAdjust="spacingAndGlyphs" fill="#000">9:20</text>
<text x="483.40" y="275.13" font-size="6.2" text-anchor="middle" textLength="12.65" lengthAdjust="spacingAndGlyphs" fill="#000">12:10</text>
<text x="507.40" y="275.13" font-size="6.2" text-anchor="middle" textLength="13.50" lengthAdjust="spacingAndGlyphs" fill="#000">14:20</text>
<text x="530.85" y="275.13" font-size="6.2" text-anchor="middle" textLength="13.50" lengthAdjust="spacingAndGlyphs" fill="#000">15:20</text>
<text x="555.15" y="275.13" font-size="6.2" text-anchor="middle" textLength="13.50" lengthAdjust="spacingAndGlyphs" fill="#000">16:20</text>
<text x="20.00" y="283.23" font-size="6.3" textLength="27.40" lengthAdjust="spacingAndGlyphs" fill="#000">MIRSK OK.</text>
<g clip-path="url(#ck1)">
<text x="238.90" y="283.23" font-size="6.5" text-anchor="end" textLength="15.80" lengthAdjust="spacingAndGlyphs" fill="#000">1,000</text>
</g>
<g clip-path="url(#cs1)">
<text x="269.30" y="283.23" font-size="6.5" text-anchor="end" textLength="18.40" lengthAdjust="spacingAndGlyphs" fill="#000">30,400</text>
</g>
<text x="291.80" y="283.23" font-size="6.2" text-anchor="middle" textLength="11.60" lengthAdjust="spacingAndGlyphs" fill="#000">30,0</text>
<text x="341.50" y="283.23" font-size="6.2" text-anchor="middle" textLength="11.60" lengthAdjust="spacingAndGlyphs" fill="#000">0:02</text>
<text x="394.65" y="283.23" font-size="6.2" text-anchor="middle" textLength="11.60" lengthAdjust="spacingAndGlyphs" fill="#000">0:02</text>
<text x="435.90" y="283.23" font-size="6.2" text-anchor="middle" textLength="11.15" lengthAdjust="spacingAndGlyphs" fill="#000">8:22</text>
<text x="458.10" y="283.23" font-size="6.2" text-anchor="middle" textLength="11.15" lengthAdjust="spacingAndGlyphs" fill="#000">9:22</text>
<text x="483.40" y="283.23" font-size="6.2" text-anchor="middle" textLength="12.65" lengthAdjust="spacingAndGlyphs" fill="#000">12:12</text>
<text x="507.40" y="283.23" font-size="6.2" text-anchor="middle" textLength="13.50" lengthAdjust="spacingAndGlyphs" fill="#000">14:22</text>
<text x="530.85" y="283.23" font-size="6.2" text-anchor="middle" textLength="13.50" lengthAdjust="spacingAndGlyphs" fill="#000">15:22</text>
<text x="555.15" y="283.23" font-size="6.2" text-anchor="middle" textLength="13.50" lengthAdjust="spacingAndGlyphs" fill="#000">16:22</text>
<text x="20.00" y="291.34" font-size="6.3" textLength="55.00" lengthAdjust="spacingAndGlyphs" fill="#000">MROCZKOWICE I 61</text>
<g clip-path="url(#ck1)">
<text x="238.90" y="291.34" font-size="6.5" text-anchor="end" textLength="15.80" lengthAdjust="spacingAndGlyphs" fill="#000">1,000</text>
</g>
<g clip-path="url(#cs1)">
<text x="269.30" y="291.34" font-size="6.5" text-anchor="end" textLength="18.40" lengthAdjust="spacingAndGlyphs" fill="#000">31,400</text>
</g>
<text x="291.80" y="291.34" font-size="6.2" text-anchor="middle" textLength="11.60" lengthAdjust="spacingAndGlyphs" fill="#000">30,0</text>
<text x="341.50" y="291.34" font-size="6.2" text-anchor="middle" textLength="11.60" lengthAdjust="spacingAndGlyphs" fill="#000">0:02</text>
<text x="394.65" y="291.34" font-size="6.2" text-anchor="middle" textLength="11.60" lengthAdjust="spacingAndGlyphs" fill="#000">0:02</text>
<text x="435.90" y="291.34" font-size="6.2" text-anchor="middle" textLength="11.15" lengthAdjust="spacingAndGlyphs" fill="#000">8:24</text>
<text x="458.10" y="291.34" font-size="6.2" text-anchor="middle" textLength="11.15" lengthAdjust="spacingAndGlyphs" fill="#000">9:24</text>
<text x="483.40" y="291.34" font-size="6.2" text-anchor="middle" textLength="12.65" lengthAdjust="spacingAndGlyphs" fill="#000">12:14</text>
<text x="507.40" y="291.34" font-size="6.2" text-anchor="middle" textLength="13.50" lengthAdjust="spacingAndGlyphs" fill="#000">14:24</text>
<text x="530.85" y="291.34" font-size="6.2" text-anchor="middle" textLength="13.50" lengthAdjust="spacingAndGlyphs" fill="#000">15:24</text>
<text x="555.15" y="291.34" font-size="6.2" text-anchor="middle" textLength="13.50" lengthAdjust="spacingAndGlyphs" fill="#000">16:24</text>
<text x="20.00" y="299.44" font-size="6.3" textLength="56.60" lengthAdjust="spacingAndGlyphs" fill="#000">MROCZKOWICE II 08</text>
<g clip-path="url(#ck1)">
<text x="238.90" y="299.44" font-size="6.5" text-anchor="end" textLength="15.80" lengthAdjust="spacingAndGlyphs" fill="#000">2,000</text>
</g>
<g clip-path="url(#cs1)">
<text x="269.30" y="299.44" font-size="6.5" text-anchor="end" textLength="18.40" lengthAdjust="spacingAndGlyphs" fill="#000">33,400</text>
</g>
<text x="291.80" y="299.44" font-size="6.2" text-anchor="middle" textLength="11.60" lengthAdjust="spacingAndGlyphs" fill="#000">40,0</text>
<text x="341.50" y="299.44" font-size="6.2" text-anchor="middle" textLength="11.60" lengthAdjust="spacingAndGlyphs" fill="#000">0:03</text>
<text x="394.65" y="299.44" font-size="6.2" text-anchor="middle" textLength="11.60" lengthAdjust="spacingAndGlyphs" fill="#000">0:03</text>
<text x="435.90" y="299.44" font-size="6.2" text-anchor="middle" textLength="11.15" lengthAdjust="spacingAndGlyphs" fill="#000">8:27</text>
<text x="458.10" y="299.44" font-size="6.2" text-anchor="middle" textLength="11.15" lengthAdjust="spacingAndGlyphs" fill="#000">9:27</text>
<text x="483.40" y="299.44" font-size="6.2" text-anchor="middle" textLength="12.65" lengthAdjust="spacingAndGlyphs" fill="#000">12:17</text>
<text x="507.40" y="299.44" font-size="6.2" text-anchor="middle" textLength="13.50" lengthAdjust="spacingAndGlyphs" fill="#000">14:27</text>
<text x="530.85" y="299.44" font-size="6.2" text-anchor="middle" textLength="13.50" lengthAdjust="spacingAndGlyphs" fill="#000">15:27</text>
<text x="555.15" y="299.44" font-size="6.2" text-anchor="middle" textLength="13.50" lengthAdjust="spacingAndGlyphs" fill="#000">16:27</text>
<text x="20.00" y="307.55" font-size="6.3" textLength="80.20" lengthAdjust="spacingAndGlyphs" fill="#000">MROCZKOWICE - KAMIEŃ 10</text>
<g clip-path="url(#ck1)">
<text x="238.90" y="307.55" font-size="6.5" text-anchor="end" textLength="15.80" lengthAdjust="spacingAndGlyphs" fill="#000">1,500</text>
</g>
<g clip-path="url(#cs1)">
<text x="269.30" y="307.55" font-size="6.5" text-anchor="end" textLength="18.40" lengthAdjust="spacingAndGlyphs" fill="#000">34,900</text>
</g>
<text x="291.80" y="307.55" font-size="6.2" text-anchor="middle" textLength="11.60" lengthAdjust="spacingAndGlyphs" fill="#000">45,0</text>
<text x="341.50" y="307.55" font-size="6.2" text-anchor="middle" textLength="11.60" lengthAdjust="spacingAndGlyphs" fill="#000">0:02</text>
<text x="394.65" y="307.55" font-size="6.2" text-anchor="middle" textLength="11.60" lengthAdjust="spacingAndGlyphs" fill="#000">0:02</text>
<text x="435.90" y="307.55" font-size="6.2" text-anchor="middle" textLength="11.15" lengthAdjust="spacingAndGlyphs" fill="#000">8:29</text>
<text x="458.10" y="307.55" font-size="6.2" text-anchor="middle" textLength="11.15" lengthAdjust="spacingAndGlyphs" fill="#000">9:29</text>
<text x="483.40" y="307.55" font-size="6.2" text-anchor="middle" textLength="12.65" lengthAdjust="spacingAndGlyphs" fill="#000">12:19</text>
<text x="507.40" y="307.55" font-size="6.2" text-anchor="middle" textLength="13.50" lengthAdjust="spacingAndGlyphs" fill="#000">14:29</text>
<text x="530.85" y="307.55" font-size="6.2" text-anchor="middle" textLength="13.50" lengthAdjust="spacingAndGlyphs" fill="#000">15:29</text>
<text x="555.15" y="307.55" font-size="6.2" text-anchor="middle" textLength="13.50" lengthAdjust="spacingAndGlyphs" fill="#000">16:29</text>
<text x="20.00" y="315.65" font-size="6.3" textLength="71.70" lengthAdjust="spacingAndGlyphs" fill="#000">ORŁOWICE - KROBICA 49</text>
<g clip-path="url(#ck1)">
<text x="238.90" y="315.65" font-size="6.5" text-anchor="end" textLength="15.80" lengthAdjust="spacingAndGlyphs" fill="#000">1,500</text>
</g>
<g clip-path="url(#cs1)">
<text x="269.30" y="315.65" font-size="6.5" text-anchor="end" textLength="18.40" lengthAdjust="spacingAndGlyphs" fill="#000">36,400</text>
</g>
<text x="291.80" y="315.65" font-size="6.2" text-anchor="middle" textLength="11.60" lengthAdjust="spacingAndGlyphs" fill="#000">45,0</text>
<text x="341.50" y="315.65" font-size="6.2" text-anchor="middle" textLength="11.60" lengthAdjust="spacingAndGlyphs" fill="#000">0:02</text>
<text x="394.65" y="315.65" font-size="6.2" text-anchor="middle" textLength="11.60" lengthAdjust="spacingAndGlyphs" fill="#000">0:02</text>
<text x="435.90" y="315.65" font-size="6.2" text-anchor="middle" textLength="10.30" lengthAdjust="spacingAndGlyphs" fill="#000">8:31</text>
<text x="458.10" y="315.65" font-size="6.2" text-anchor="middle" textLength="10.30" lengthAdjust="spacingAndGlyphs" fill="#000">9:31</text>
<text x="483.40" y="315.65" font-size="6.2" text-anchor="middle" textLength="12.65" lengthAdjust="spacingAndGlyphs" fill="#000">12:21</text>
<text x="507.40" y="315.65" font-size="6.2" text-anchor="middle" textLength="12.65" lengthAdjust="spacingAndGlyphs" fill="#000">14:31</text>
<text x="530.85" y="315.65" font-size="6.2" text-anchor="middle" textLength="12.65" lengthAdjust="spacingAndGlyphs" fill="#000">15:31</text>
<text x="555.15" y="315.65" font-size="6.2" text-anchor="middle" textLength="12.65" lengthAdjust="spacingAndGlyphs" fill="#000">16:31</text>
<text x="20.00" y="323.75" font-size="6.3" textLength="133.50" lengthAdjust="spacingAndGlyphs" fill="#000">ŚWIERADÓW - ZDRÓJ ul. Grunwaldzka/Wiejska</text>
<g clip-path="url(#ck1)">
<text x="238.90" y="323.75" font-size="6.5" text-anchor="end" textLength="15.80" lengthAdjust="spacingAndGlyphs" fill="#000">1,000</text>
</g>
<g clip-path="url(#cs1)">
<text x="269.30" y="323.75" font-size="6.5" text-anchor="end" textLength="18.40" lengthAdjust="spacingAndGlyphs" fill="#000">37,400</text>
</g>
<text x="291.80" y="323.75" font-size="6.2" text-anchor="middle" textLength="11.60" lengthAdjust="spacingAndGlyphs" fill="#000">30,0</text>
<text x="341.50" y="323.75" font-size="6.2" text-anchor="middle" textLength="11.60" lengthAdjust="spacingAndGlyphs" fill="#000">0:02</text>
<text x="394.65" y="323.75" font-size="6.2" text-anchor="middle" textLength="11.60" lengthAdjust="spacingAndGlyphs" fill="#000">0:02</text>
<text x="435.90" y="323.75" font-size="6.2" text-anchor="middle" textLength="11.15" lengthAdjust="spacingAndGlyphs" fill="#000">8:33</text>
<text x="458.10" y="323.75" font-size="6.2" text-anchor="middle" textLength="11.15" lengthAdjust="spacingAndGlyphs" fill="#000">9:33</text>
<text x="483.40" y="323.75" font-size="6.2" text-anchor="middle" textLength="13.50" lengthAdjust="spacingAndGlyphs" fill="#000">12:23</text>
<text x="507.40" y="323.75" font-size="6.2" text-anchor="middle" textLength="13.50" lengthAdjust="spacingAndGlyphs" fill="#000">14:33</text>
<text x="530.85" y="323.75" font-size="6.2" text-anchor="middle" textLength="13.50" lengthAdjust="spacingAndGlyphs" fill="#000">15:33</text>
<text x="555.15" y="323.75" font-size="6.2" text-anchor="middle" textLength="13.50" lengthAdjust="spacingAndGlyphs" fill="#000">16:33</text>
<text x="20.00" y="331.86" font-size="6.3" textLength="148.10" lengthAdjust="spacingAndGlyphs" fill="#000">ŚWIERADÓW - ZDRÓJ ul. Grunwaldzka/Urząd Miasta</text>
<g clip-path="url(#ck1)">
<text x="238.90" y="331.86" font-size="6.5" text-anchor="end" textLength="15.80" lengthAdjust="spacingAndGlyphs" fill="#000">1,000</text>
</g>
<g clip-path="url(#cs1)">
<text x="269.30" y="331.86" font-size="6.5" text-anchor="end" textLength="18.40" lengthAdjust="spacingAndGlyphs" fill="#000">38,400</text>
</g>
<text x="291.80" y="331.86" font-size="6.2" text-anchor="middle" textLength="11.60" lengthAdjust="spacingAndGlyphs" fill="#000">30,0</text>
<text x="341.50" y="331.86" font-size="6.2" text-anchor="middle" textLength="11.60" lengthAdjust="spacingAndGlyphs" fill="#000">0:02</text>
<text x="394.65" y="331.86" font-size="6.2" text-anchor="middle" textLength="11.60" lengthAdjust="spacingAndGlyphs" fill="#000">0:02</text>
<text x="435.90" y="331.86" font-size="6.2" text-anchor="middle" textLength="11.15" lengthAdjust="spacingAndGlyphs" fill="#000">8:35</text>
<text x="458.10" y="331.86" font-size="6.2" text-anchor="middle" textLength="11.15" lengthAdjust="spacingAndGlyphs" fill="#000">9:35</text>
<text x="483.40" y="331.86" font-size="6.2" text-anchor="middle" textLength="13.50" lengthAdjust="spacingAndGlyphs" fill="#000">12:25</text>
<text x="507.40" y="331.86" font-size="6.2" text-anchor="middle" textLength="13.50" lengthAdjust="spacingAndGlyphs" fill="#000">14:35</text>
<text x="530.85" y="331.86" font-size="6.2" text-anchor="middle" textLength="13.50" lengthAdjust="spacingAndGlyphs" fill="#000">15:35</text>
<text x="555.15" y="331.86" font-size="6.2" text-anchor="middle" textLength="13.50" lengthAdjust="spacingAndGlyphs" fill="#000">16:35</text>
<text x="20.00" y="339.96" font-size="6.3" textLength="170.10" lengthAdjust="spacingAndGlyphs" fill="#000">ŚWIERADÓW-ZDRÓJ K.S. WYSZYŃSKIEGO - PLAC ZABAW 02</text>
<g clip-path="url(#ck1)">
<text x="238.90" y="339.96" font-size="6.5" text-anchor="end" textLength="15.80" lengthAdjust="spacingAndGlyphs" fill="#000">1,000</text>
</g>
<g clip-path="url(#cs1)">
<text x="269.30" y="339.96" font-size="6.5" text-anchor="end" textLength="18.40" lengthAdjust="spacingAndGlyphs" fill="#000">39,400</text>
</g>
<text x="291.80" y="339.96" font-size="6.2" text-anchor="middle" textLength="11.60" lengthAdjust="spacingAndGlyphs" fill="#000">30,0</text>
<text x="341.50" y="339.96" font-size="6.2" text-anchor="middle" textLength="11.60" lengthAdjust="spacingAndGlyphs" fill="#000">0:02</text>
<text x="394.65" y="339.96" font-size="6.2" text-anchor="middle" textLength="11.60" lengthAdjust="spacingAndGlyphs" fill="#000">0:02</text>
<text x="435.90" y="339.96" font-size="6.2" text-anchor="middle" textLength="11.15" lengthAdjust="spacingAndGlyphs" fill="#000">8:37</text>
<text x="458.10" y="339.96" font-size="6.2" text-anchor="middle" textLength="11.15" lengthAdjust="spacingAndGlyphs" fill="#000">9:37</text>
<text x="483.40" y="339.96" font-size="6.2" text-anchor="middle" textLength="13.50" lengthAdjust="spacingAndGlyphs" fill="#000">12:27</text>
<text x="507.40" y="339.96" font-size="6.2" text-anchor="middle" textLength="13.50" lengthAdjust="spacingAndGlyphs" fill="#000">14:37</text>
<text x="530.85" y="339.96" font-size="6.2" text-anchor="middle" textLength="13.50" lengthAdjust="spacingAndGlyphs" fill="#000">15:37</text>
<text x="555.15" y="339.96" font-size="6.2" text-anchor="middle" textLength="13.50" lengthAdjust="spacingAndGlyphs" fill="#000">16:37</text>
<text x="20.00" y="348.07" font-size="6.3" textLength="40.50" lengthAdjust="spacingAndGlyphs" font-style="italic" fill="#000">Długość kursu</text>
<text x="435.90" y="348.07" font-size="6.2" text-anchor="middle" textLength="11.00" lengthAdjust="spacingAndGlyphs" font-style="italic" fill="#000">39,4</text>
<text x="458.10" y="348.07" font-size="6.2" text-anchor="middle" textLength="11.00" lengthAdjust="spacingAndGlyphs" font-style="italic" fill="#000">39,4</text>
<text x="483.40" y="348.07" font-size="6.2" text-anchor="middle" textLength="11.00" lengthAdjust="spacingAndGlyphs" font-style="italic" fill="#000">39,4</text>
<text x="507.40" y="348.07" font-size="6.2" text-anchor="middle" textLength="11.00" lengthAdjust="spacingAndGlyphs" font-style="italic" fill="#000">39,4</text>
<text x="530.85" y="348.07" font-size="6.2" text-anchor="middle" textLength="11.00" lengthAdjust="spacingAndGlyphs" font-style="italic" fill="#000">39,4</text>
<text x="555.15" y="348.07" font-size="6.2" text-anchor="middle" textLength="11.00" lengthAdjust="spacingAndGlyphs" font-style="italic" fill="#000">39,4</text>
<text x="19.50" y="371.91" font-size="6.4" textLength="110.50" lengthAdjust="spacingAndGlyphs" fill="#000" stroke-width="0.12">C - kursuje w sobotę, niedziele i święta</text>
<text x="19.50" y="380.51" font-size="6.4" textLength="143.00" lengthAdjust="spacingAndGlyphs" fill="#000" stroke-width="0.12">D - kursuje od poniedziałku do piątku oprócz świąt</text>
<text x="19.50" y="389.51" font-size="6.4" textLength="244.30" lengthAdjust="spacingAndGlyphs" fill="#000" stroke-width="0.12">d - nie kursuje w dniu 1.I, w pierwszy i drugi dzień Świąt Wielkanocnych oraz w dniach</text>
<text x="19.50" y="396.81" font-size="6.4" textLength="26.50" lengthAdjust="spacingAndGlyphs" fill="#000" stroke-width="0.12">25 i 26.XII</text>
<text x="623.00" y="430.84" font-size="6.8" text-anchor="end" textLength="94.20" lengthAdjust="spacingAndGlyphs" fill="#000">Rozkład jazdy ważny od 01.10.2021</text>
<text x="19.00" y="437.84" font-size="6.8" textLength="146.50" lengthAdjust="spacingAndGlyphs" fill="#000">Powiat Lubański - Starostwo Powiatowe w Lubaniu</text>
<text x="19.00" y="445.59" font-size="6.8" textLength="54.50" lengthAdjust="spacingAndGlyphs" fill="#000">ul. A. Mickiewicza 2</text>
<text x="19.00" y="453.84" font-size="6.8" textLength="40.00" lengthAdjust="spacingAndGlyphs" fill="#000">59-800 Lubań</text>
<text x="19.00" y="469.64" font-size="6.8" textLength="96.50" lengthAdjust="spacingAndGlyphs" fill="#000">Rozkład jazdy linii komunikacyjnej</text>
<text x="19.00" y="478.84" font-size="6.8" textLength="131.50" lengthAdjust="spacingAndGlyphs" fill="#000">Świeradów-Zdrój - Złotniki Lubańskie - Lubań</text>
<text x="217.00" y="469.64" font-size="6.8" textLength="14.00" lengthAdjust="spacingAndGlyphs" fill="#000">nr 12</text>
<text x="248.00" y="469.64" font-size="6.8" textLength="58.00" lengthAdjust="spacingAndGlyphs" fill="#000">Komunikacja zwykła</text>
<clipPath id="ck2"><rect x="216.5" y="488.6" width="22.099999999999994" height="251.10800000000006"/></clipPath>
<clipPath id="cs2"><rect x="238.6" y="488.6" width="30.400000000000006" height="251.10800000000006"/></clipPath>
<text x="117.78" y="502.58" font-size="6.6" text-anchor="middle" textLength="76.00" lengthAdjust="spacingAndGlyphs" fill="#000">Nazwa i numer przystanku</text>
<text x="228.05" y="502.58" font-size="6.6" text-anchor="middle" textLength="8.50" lengthAdjust="spacingAndGlyphs" fill="#000">km</text>
<text x="254.20" y="502.58" font-size="6.6" text-anchor="middle" textLength="15.00" lengthAdjust="spacingAndGlyphs" fill="#000">suma</text>
<text x="291.80" y="494.78" font-size="6.6" text-anchor="middle" textLength="26.00" lengthAdjust="spacingAndGlyphs" fill="#000">Prędkość</text>
<text x="291.80" y="502.48" font-size="6.6" text-anchor="middle" textLength="29.50" lengthAdjust="spacingAndGlyphs" fill="#000">techniczna</text>
<text x="291.80" y="510.18" font-size="6.6" text-anchor="middle" textLength="18.50" lengthAdjust="spacingAndGlyphs" fill="#000">[km/h]</text>
<text x="341.20" y="502.58" font-size="6.6" text-anchor="middle" textLength="15.30" lengthAdjust="spacingAndGlyphs" fill="#000">Czas1</text>
<text x="394.65" y="502.58" font-size="6.6" text-anchor="middle" textLength="16.20" lengthAdjust="spacingAndGlyphs" fill="#000">Czas2</text>
<text x="435.90" y="502.58" font-size="6.5" text-anchor="middle" textLength="14.71" lengthAdjust="spacingAndGlyphs" fill="#000">124 D</text>
<text x="458.10" y="502.58" font-size="6.5" text-anchor="middle" textLength="13.96" lengthAdjust="spacingAndGlyphs" fill="#000">125 d</text>
<text x="483.40" y="502.58" font-size="6.5" text-anchor="middle" textLength="13.96" lengthAdjust="spacingAndGlyphs" fill="#000">126 d</text>
<text x="507.40" y="502.58" font-size="6.5" text-anchor="middle" textLength="13.96" lengthAdjust="spacingAndGlyphs" fill="#000">127 d</text>
<text x="20.00" y="518.65" font-size="6.3" textLength="170.90" lengthAdjust="spacingAndGlyphs" fill="#000">ŚWIERADÓW-ZDRÓJ K.S. WYSZYŃSKIEGO - PLAC ZABAW 02</text>
<g clip-path="url(#ck2)">
<text x="238.90" y="518.65" font-size="6.5" text-anchor="end" textLength="15.80" lengthAdjust="spacingAndGlyphs" fill="#000">0,000</text>
</g>
<g clip-path="url(#cs2)">
<text x="269.30" y="518.65" font-size="6.5" text-anchor="end" textLength="15.80" lengthAdjust="spacingAndGlyphs" fill="#000">0,000</text>
</g>
<text x="435.90" y="518.65" font-size="6.2" text-anchor="middle" textLength="10.30" lengthAdjust="spacingAndGlyphs" fill="#000">6:15</text>
<text x="458.10" y="518.65" font-size="6.2" text-anchor="middle" textLength="11.15" lengthAdjust="spacingAndGlyphs" fill="#000">9:45</text>
<text x="483.40" y="518.65" font-size="6.2" text-anchor="middle" textLength="13.50" lengthAdjust="spacingAndGlyphs" fill="#000">12:45</text>
<text x="507.40" y="518.65" font-size="6.2" text-anchor="middle" textLength="13.50" lengthAdjust="spacingAndGlyphs" fill="#000">15:45</text>
<text x="20.00" y="526.76" font-size="6.3" textLength="161.90" lengthAdjust="spacingAndGlyphs" fill="#000">ŚWIERADÓW-ZDRÓJ UL. GRUNWALDZKA/URZĄD MIASTA</text>
<g clip-path="url(#ck2)">
<text x="238.90" y="526.76" font-size="6.5" text-anchor="end" textLength="15.80" lengthAdjust="spacingAndGlyphs" fill="#000">1,000</text>
</g>
<g clip-path="url(#cs2)">
<text x="269.30" y="526.76" font-size="6.5" text-anchor="end" textLength="15.80" lengthAdjust="spacingAndGlyphs" fill="#000">1,000</text>
</g>
<text x="291.80" y="526.76" font-size="6.2" text-anchor="middle" textLength="11.60" lengthAdjust="spacingAndGlyphs" fill="#000">30,0</text>
<text x="341.50" y="526.76" font-size="6.2" text-anchor="middle" textLength="11.60" lengthAdjust="spacingAndGlyphs" fill="#000">0:02</text>
<text x="394.65" y="526.76" font-size="6.2" text-anchor="middle" textLength="11.60" lengthAdjust="spacingAndGlyphs" fill="#000">0:02</text>
<text x="435.90" y="526.76" font-size="6.2" text-anchor="middle" textLength="10.30" lengthAdjust="spacingAndGlyphs" fill="#000">6:17</text>
<text x="458.10" y="526.76" font-size="6.2" text-anchor="middle" textLength="11.15" lengthAdjust="spacingAndGlyphs" fill="#000">9:47</text>
<text x="483.40" y="526.76" font-size="6.2" text-anchor="middle" textLength="13.50" lengthAdjust="spacingAndGlyphs" fill="#000">12:47</text>
<text x="507.40" y="526.76" font-size="6.2" text-anchor="middle" textLength="13.50" lengthAdjust="spacingAndGlyphs" fill="#000">15:47</text>
<text x="20.00" y="534.87" font-size="6.3" textLength="144.90" lengthAdjust="spacingAndGlyphs" fill="#000">ŚWIERADÓW-ZDRÓJ UL. GRUNWALDZKA/WIEJSKA</text>
<g clip-path="url(#ck2)">
<text x="238.90" y="534.87" font-size="6.5" text-anchor="end" textLength="15.80" lengthAdjust="spacingAndGlyphs" fill="#000">1,000</text>
</g>
<g clip-path="url(#cs2)">
<text x="269.30" y="534.87" font-size="6.5" text-anchor="end" textLength="15.80" lengthAdjust="spacingAndGlyphs" fill="#000">2,000</text>
</g>
<text x="291.80" y="534.87" font-size="6.2" text-anchor="middle" textLength="11.60" lengthAdjust="spacingAndGlyphs" fill="#000">30,0</text>
<text x="341.50" y="534.87" font-size="6.2" text-anchor="middle" textLength="11.60" lengthAdjust="spacingAndGlyphs" fill="#000">0:02</text>
<text x="394.65" y="534.87" font-size="6.2" text-anchor="middle" textLength="11.60" lengthAdjust="spacingAndGlyphs" fill="#000">0:02</text>
<text x="435.90" y="534.87" font-size="6.2" text-anchor="middle" textLength="10.30" lengthAdjust="spacingAndGlyphs" fill="#000">6:19</text>
<text x="458.10" y="534.87" font-size="6.2" text-anchor="middle" textLength="11.15" lengthAdjust="spacingAndGlyphs" fill="#000">9:49</text>
<text x="483.40" y="534.87" font-size="6.2" text-anchor="middle" textLength="13.50" lengthAdjust="spacingAndGlyphs" fill="#000">12:49</text>
<text x="507.40" y="534.87" font-size="6.2" text-anchor="middle" textLength="13.50" lengthAdjust="spacingAndGlyphs" fill="#000">15:49</text>
<text x="20.00" y="542.98" font-size="6.3" textLength="72.10" lengthAdjust="spacingAndGlyphs" fill="#000">ORŁOWICE - KROBICA 50</text>
<g clip-path="url(#ck2)">
<text x="238.90" y="542.98" font-size="6.5" text-anchor="end" textLength="15.80" lengthAdjust="spacingAndGlyphs" fill="#000">1,000</text>
</g>
<g clip-path="url(#cs2)">
<text x="269.30" y="542.98" font-size="6.5" text-anchor="end" textLength="15.80" lengthAdjust="spacingAndGlyphs" fill="#000">3,000</text>
</g>
<text x="291.80" y="542.98" font-size="6.2" text-anchor="middle" textLength="11.60" lengthAdjust="spacingAndGlyphs" fill="#000">30,0</text>
<text x="341.50" y="542.98" font-size="6.2" text-anchor="middle" textLength="11.60" lengthAdjust="spacingAndGlyphs" fill="#000">0:02</text>
<text x="394.65" y="542.98" font-size="6.2" text-anchor="middle" textLength="11.60" lengthAdjust="spacingAndGlyphs" fill="#000">0:02</text>
<text x="435.90" y="542.98" font-size="6.2" text-anchor="middle" textLength="10.30" lengthAdjust="spacingAndGlyphs" fill="#000">6:21</text>
<text x="458.10" y="542.98" font-size="6.2" text-anchor="middle" textLength="10.30" lengthAdjust="spacingAndGlyphs" fill="#000">9:51</text>
<text x="483.40" y="542.98" font-size="6.2" text-anchor="middle" textLength="12.65" lengthAdjust="spacingAndGlyphs" fill="#000">12:51</text>
<text x="507.40" y="542.98" font-size="6.2" text-anchor="middle" textLength="12.65" lengthAdjust="spacingAndGlyphs" fill="#000">15:51</text>
<text x="20.00" y="551.09" font-size="6.3" textLength="81.00" lengthAdjust="spacingAndGlyphs" fill="#000">MROCZKOWICE - KAMIEŃ 09</text>
<g clip-path="url(#ck2)">
<text x="238.90" y="551.09" font-size="6.5" text-anchor="end" textLength="15.80" lengthAdjust="spacingAndGlyphs" fill="#000">1,500</text>
</g>
<g clip-path="url(#cs2)">
<text x="269.30" y="551.09" font-size="6.5" text-anchor="end" textLength="15.80" lengthAdjust="spacingAndGlyphs" fill="#000">4,500</text>
</g>
<text x="291.80" y="551.09" font-size="6.2" text-anchor="middle" textLength="11.60" lengthAdjust="spacingAndGlyphs" fill="#000">45,0</text>
<text x="341.50" y="551.09" font-size="6.2" text-anchor="middle" textLength="11.60" lengthAdjust="spacingAndGlyphs" fill="#000">0:02</text>
<text x="394.65" y="551.09" font-size="6.2" text-anchor="middle" textLength="11.60" lengthAdjust="spacingAndGlyphs" fill="#000">0:02</text>
<text x="435.90" y="551.09" font-size="6.2" text-anchor="middle" textLength="11.15" lengthAdjust="spacingAndGlyphs" fill="#000">6:23</text>
<text x="458.10" y="551.09" font-size="6.2" text-anchor="middle" textLength="11.15" lengthAdjust="spacingAndGlyphs" fill="#000">9:53</text>
<text x="483.40" y="551.09" font-size="6.2" text-anchor="middle" textLength="13.50" lengthAdjust="spacingAndGlyphs" fill="#000">12:53</text>
<text x="507.40" y="551.09" font-size="6.2" text-anchor="middle" textLength="13.50" lengthAdjust="spacingAndGlyphs" fill="#000">15:53</text>
<text x="20.00" y="559.20" font-size="6.3" textLength="56.60" lengthAdjust="spacingAndGlyphs" fill="#000">MROCZKOWICE II 07</text>
<g clip-path="url(#ck2)">
<text x="238.90" y="559.20" font-size="6.5" text-anchor="end" textLength="15.80" lengthAdjust="spacingAndGlyphs" fill="#000">1,500</text>
</g>
<g clip-path="url(#cs2)">
<text x="269.30" y="559.20" font-size="6.5" text-anchor="end" textLength="15.80" lengthAdjust="spacingAndGlyphs" fill="#000">6,000</text>
</g>
<text x="291.80" y="559.20" font-size="6.2" text-anchor="middle" textLength="11.60" lengthAdjust="spacingAndGlyphs" fill="#000">45,0</text>
<text x="341.50" y="559.20" font-size="6.2" text-anchor="middle" textLength="11.60" lengthAdjust="spacingAndGlyphs" fill="#000">0:02</text>
<text x="394.65" y="559.20" font-size="6.2" text-anchor="middle" textLength="11.60" lengthAdjust="spacingAndGlyphs" fill="#000">0:02</text>
<text x="435.90" y="559.20" font-size="6.2" text-anchor="middle" textLength="11.15" lengthAdjust="spacingAndGlyphs" fill="#000">6:25</text>
<text x="458.10" y="559.20" font-size="6.2" text-anchor="middle" textLength="11.15" lengthAdjust="spacingAndGlyphs" fill="#000">9:55</text>
<text x="483.40" y="559.20" font-size="6.2" text-anchor="middle" textLength="13.50" lengthAdjust="spacingAndGlyphs" fill="#000">12:55</text>
<text x="507.40" y="559.20" font-size="6.2" text-anchor="middle" textLength="13.50" lengthAdjust="spacingAndGlyphs" fill="#000">15:55</text>
<text x="20.00" y="567.32" font-size="6.3" textLength="55.00" lengthAdjust="spacingAndGlyphs" fill="#000">MROCZKOWICE I 51</text>
<g clip-path="url(#ck2)">
<text x="238.90" y="567.32" font-size="6.5" text-anchor="end" textLength="15.80" lengthAdjust="spacingAndGlyphs" fill="#000">2,000</text>
</g>
<g clip-path="url(#cs2)">
<text x="269.30" y="567.32" font-size="6.5" text-anchor="end" textLength="15.80" lengthAdjust="spacingAndGlyphs" fill="#000">8,000</text>
</g>
<text x="291.80" y="567.32" font-size="6.2" text-anchor="middle" textLength="11.60" lengthAdjust="spacingAndGlyphs" fill="#000">40,0</text>
<text x="341.50" y="567.32" font-size="6.2" text-anchor="middle" textLength="11.60" lengthAdjust="spacingAndGlyphs" fill="#000">0:03</text>
<text x="394.65" y="567.32" font-size="6.2" text-anchor="middle" textLength="11.60" lengthAdjust="spacingAndGlyphs" fill="#000">0:03</text>
<text x="435.90" y="567.32" font-size="6.2" text-anchor="middle" textLength="11.15" lengthAdjust="spacingAndGlyphs" fill="#000">6:28</text>
<text x="458.10" y="567.32" font-size="6.2" text-anchor="middle" textLength="11.15" lengthAdjust="spacingAndGlyphs" fill="#000">9:58</text>
<text x="483.40" y="567.32" font-size="6.2" text-anchor="middle" textLength="13.50" lengthAdjust="spacingAndGlyphs" fill="#000">12:58</text>
<text x="507.40" y="567.32" font-size="6.2" text-anchor="middle" textLength="13.50" lengthAdjust="spacingAndGlyphs" fill="#000">15:58</text>
<text x="20.00" y="575.43" font-size="6.3" textLength="27.40" lengthAdjust="spacingAndGlyphs" fill="#000">MIRSK OK.</text>
<g clip-path="url(#ck2)">
<text x="238.90" y="575.43" font-size="6.5" text-anchor="end" textLength="15.80" lengthAdjust="spacingAndGlyphs" fill="#000">1,000</text>
</g>
<g clip-path="url(#cs2)">
<text x="269.30" y="575.43" font-size="6.5" text-anchor="end" textLength="15.80" lengthAdjust="spacingAndGlyphs" fill="#000">9,000</text>
</g>
<text x="291.80" y="575.43" font-size="6.2" text-anchor="middle" textLength="11.60" lengthAdjust="spacingAndGlyphs" fill="#000">30,0</text>
<text x="341.50" y="575.43" font-size="6.2" text-anchor="middle" textLength="11.60" lengthAdjust="spacingAndGlyphs" fill="#000">0:02</text>
<text x="394.65" y="575.43" font-size="6.2" text-anchor="middle" textLength="11.60" lengthAdjust="spacingAndGlyphs" fill="#000">0:02</text>
<text x="435.90" y="575.43" font-size="6.2" text-anchor="middle" textLength="11.15" lengthAdjust="spacingAndGlyphs" fill="#000">6:30</text>
<text x="458.10" y="575.43" font-size="6.2" text-anchor="middle" textLength="13.50" lengthAdjust="spacingAndGlyphs" fill="#000">10:00</text>
<text x="483.40" y="575.43" font-size="6.2" text-anchor="middle" textLength="13.50" lengthAdjust="spacingAndGlyphs" fill="#000">13:00</text>
<text x="507.40" y="575.43" font-size="6.2" text-anchor="middle" textLength="13.50" lengthAdjust="spacingAndGlyphs" fill="#000">16:00</text>
<text x="20.00" y="583.54" font-size="6.3" textLength="33.90" lengthAdjust="spacingAndGlyphs" fill="#000">GIEBUŁTÓW</text>
<g clip-path="url(#ck2)">
<text x="238.90" y="583.54" font-size="6.5" text-anchor="end" textLength="15.80" lengthAdjust="spacingAndGlyphs" fill="#000">1,000</text>
</g>
<g clip-path="url(#cs2)">
<text x="269.30" y="583.54" font-size="6.5" text-anchor="end" textLength="18.40" lengthAdjust="spacingAndGlyphs" fill="#000">10,000</text>
</g>
<text x="291.80" y="583.54" font-size="6.2" text-anchor="middle" textLength="11.60" lengthAdjust="spacingAndGlyphs" fill="#000">30,0</text>
<text x="341.50" y="583.54" font-size="6.2" text-anchor="middle" textLength="11.60" lengthAdjust="spacingAndGlyphs" fill="#000">0:02</text>
<text x="394.65" y="583.54" font-size="6.2" text-anchor="middle" textLength="11.60" lengthAdjust="spacingAndGlyphs" fill="#000">0:02</text>
<text x="435.90" y="583.54" font-size="6.2" text-anchor="middle" textLength="11.15" lengthAdjust="spacingAndGlyphs" fill="#000">6:32</text>
<text x="458.10" y="583.54" font-size="6.2" text-anchor="middle" textLength="13.50" lengthAdjust="spacingAndGlyphs" fill="#000">10:02</text>
<text x="483.40" y="583.54" font-size="6.2" text-anchor="middle" textLength="13.50" lengthAdjust="spacingAndGlyphs" fill="#000">13:02</text>
<text x="507.40" y="583.54" font-size="6.2" text-anchor="middle" textLength="13.50" lengthAdjust="spacingAndGlyphs" fill="#000">16:02</text>
<text x="20.00" y="591.65" font-size="6.3" textLength="33.90" lengthAdjust="spacingAndGlyphs" fill="#000">GIEBUŁTÓW</text>
<g clip-path="url(#ck2)">
<text x="238.90" y="591.65" font-size="6.5" text-anchor="end" textLength="15.80" lengthAdjust="spacingAndGlyphs" fill="#000">2,000</text>
</g>
<g clip-path="url(#cs2)">
<text x="269.30" y="591.65" font-size="6.5" text-anchor="end" textLength="18.40" lengthAdjust="spacingAndGlyphs" fill="#000">12,000</text>
</g>
<text x="291.80" y="591.65" font-size="6.2" text-anchor="middle" textLength="11.60" lengthAdjust="spacingAndGlyphs" fill="#000">40,0</text>
<text x="341.50" y="591.65" font-size="6.2" text-anchor="middle" textLength="11.60" lengthAdjust="spacingAndGlyphs" fill="#000">0:03</text>
<text x="394.65" y="591.65" font-size="6.2" text-anchor="middle" textLength="11.60" lengthAdjust="spacingAndGlyphs" fill="#000">0:03</text>
<text x="435.90" y="591.65" font-size="6.2" text-anchor="middle" textLength="11.15" lengthAdjust="spacingAndGlyphs" fill="#000">6:35</text>
<text x="458.10" y="591.65" font-size="6.2" text-anchor="middle" textLength="13.50" lengthAdjust="spacingAndGlyphs" fill="#000">10:05</text>
<text x="483.40" y="591.65" font-size="6.2" text-anchor="middle" textLength="13.50" lengthAdjust="spacingAndGlyphs" fill="#000">13:05</text>
<text x="507.40" y="591.65" font-size="6.2" text-anchor="middle" textLength="13.50" lengthAdjust="spacingAndGlyphs" fill="#000">16:05</text>
<text x="20.00" y="599.76" font-size="6.3" textLength="76.10" lengthAdjust="spacingAndGlyphs" fill="#000">GIEBUŁTÓW-AUGUSTÓW 13</text>
<g clip-path="url(#ck2)">
<text x="238.90" y="599.76" font-size="6.5" text-anchor="end" textLength="15.80" lengthAdjust="spacingAndGlyphs" fill="#000">2,000</text>
</g>
<g clip-path="url(#cs2)">
<text x="269.30" y="599.76" font-size="6.5" text-anchor="end" textLength="18.40" lengthAdjust="spacingAndGlyphs" fill="#000">14,000</text>
</g>
<text x="291.80" y="599.76" font-size="6.2" text-anchor="middle" textLength="11.60" lengthAdjust="spacingAndGlyphs" fill="#000">40,0</text>
<text x="341.50" y="599.76" font-size="6.2" text-anchor="middle" textLength="11.60" lengthAdjust="spacingAndGlyphs" fill="#000">0:03</text>
<text x="394.65" y="599.76" font-size="6.2" text-anchor="middle" textLength="11.60" lengthAdjust="spacingAndGlyphs" fill="#000">0:03</text>
<text x="435.90" y="599.76" font-size="6.2" text-anchor="middle" textLength="11.15" lengthAdjust="spacingAndGlyphs" fill="#000">6:38</text>
<text x="458.10" y="599.76" font-size="6.2" text-anchor="middle" textLength="13.50" lengthAdjust="spacingAndGlyphs" fill="#000">10:08</text>
<text x="483.40" y="599.76" font-size="6.2" text-anchor="middle" textLength="13.50" lengthAdjust="spacingAndGlyphs" fill="#000">13:08</text>
<text x="507.40" y="599.76" font-size="6.2" text-anchor="middle" textLength="13.50" lengthAdjust="spacingAndGlyphs" fill="#000">16:08</text>
<text x="20.00" y="607.87" font-size="6.3" textLength="114.00" lengthAdjust="spacingAndGlyphs" fill="#000">ZŁOTY POTOK - BARTOSZÓWKA SKRZ 11</text>
<g clip-path="url(#ck2)">
<text x="238.90" y="607.87" font-size="6.5" text-anchor="end" textLength="15.80" lengthAdjust="spacingAndGlyphs" fill="#000">2,000</text>
</g>
<g clip-path="url(#cs2)">
<text x="269.30" y="607.87" font-size="6.5" text-anchor="end" textLength="18.40" lengthAdjust="spacingAndGlyphs" fill="#000">16,000</text>
</g>
<text x="291.80" y="607.87" font-size="6.2" text-anchor="middle" textLength="11.60" lengthAdjust="spacingAndGlyphs" fill="#000">40,0</text>
<text x="341.50" y="607.87" font-size="6.2" text-anchor="middle" textLength="11.60" lengthAdjust="spacingAndGlyphs" fill="#000">0:03</text>
<text x="394.65" y="607.87" font-size="6.2" text-anchor="middle" textLength="11.60" lengthAdjust="spacingAndGlyphs" fill="#000">0:03</text>
<text x="435.90" y="607.87" font-size="6.2" text-anchor="middle" textLength="10.30" lengthAdjust="spacingAndGlyphs" fill="#000">6:41</text>
<text x="458.10" y="607.87" font-size="6.2" text-anchor="middle" textLength="11.80" lengthAdjust="spacingAndGlyphs" fill="#000">10:11</text>
<text x="483.40" y="607.87" font-size="6.2" text-anchor="middle" textLength="11.80" lengthAdjust="spacingAndGlyphs" fill="#000">13:11</text>
<text x="507.40" y="607.87" font-size="6.2" text-anchor="middle" textLength="11.80" lengthAdjust="spacingAndGlyphs" fill="#000">16:11</text>
<text x="20.00" y="615.98" font-size="6.3" textLength="96.10" lengthAdjust="spacingAndGlyphs" fill="#000">ZŁOTNIKI LUBAŃSKIE I/ RYNEK 15</text>
<g clip-path="url(#ck2)">
<text x="238.90" y="615.98" font-size="6.5" text-anchor="end" textLength="15.80" lengthAdjust="spacingAndGlyphs" fill="#000">2,000</text>
</g>
<g clip-path="url(#cs2)">
<text x="269.30" y="615.98" font-size="6.5" text-anchor="end" textLength="18.40" lengthAdjust="spacingAndGlyphs" fill="#000">18,000</text>
</g>
<text x="291.80" y="615.98" font-size="6.2" text-anchor="middle" textLength="11.60" lengthAdjust="spacingAndGlyphs" fill="#000">40,0</text>
<text x="341.50" y="615.98" font-size="6.2" text-anchor="middle" textLength="11.60" lengthAdjust="spacingAndGlyphs" fill="#000">0:03</text>
<text x="394.65" y="615.98" font-size="6.2" text-anchor="middle" textLength="11.60" lengthAdjust="spacingAndGlyphs" fill="#000">0:03</text>
<text x="435.90" y="615.98" font-size="6.2" text-anchor="middle" textLength="11.15" lengthAdjust="spacingAndGlyphs" fill="#000">6:44</text>
<text x="458.10" y="615.98" font-size="6.2" text-anchor="middle" textLength="12.65" lengthAdjust="spacingAndGlyphs" fill="#000">10:14</text>
<text x="483.40" y="615.98" font-size="6.2" text-anchor="middle" textLength="12.65" lengthAdjust="spacingAndGlyphs" fill="#000">13:14</text>
<text x="507.40" y="615.98" font-size="6.2" text-anchor="middle" textLength="12.65" lengthAdjust="spacingAndGlyphs" fill="#000">16:14</text>
<text x="20.00" y="624.09" font-size="6.3" textLength="48.50" lengthAdjust="spacingAndGlyphs" fill="#000">STANKOWICE I 13</text>
<g clip-path="url(#ck2)">
<text x="238.90" y="624.09" font-size="6.5" text-anchor="end" textLength="15.80" lengthAdjust="spacingAndGlyphs" fill="#000">2,000</text>
</g>
<g clip-path="url(#cs2)">
<text x="269.30" y="624.09" font-size="6.5" text-anchor="end" textLength="18.40" lengthAdjust="spacingAndGlyphs" fill="#000">20,000</text>
</g>
<text x="291.80" y="624.09" font-size="6.2" text-anchor="middle" textLength="11.60" lengthAdjust="spacingAndGlyphs" fill="#000">40,0</text>
<text x="341.50" y="624.09" font-size="6.2" text-anchor="middle" textLength="11.60" lengthAdjust="spacingAndGlyphs" fill="#000">0:03</text>
<text x="394.65" y="624.09" font-size="6.2" text-anchor="middle" textLength="11.60" lengthAdjust="spacingAndGlyphs" fill="#000">0:03</text>
<text x="435.90" y="624.09" font-size="6.2" text-anchor="middle" textLength="11.15" lengthAdjust="spacingAndGlyphs" fill="#000">6:47</text>
<text x="458.10" y="624.09" font-size="6.2" text-anchor="middle" textLength="12.65" lengthAdjust="spacingAndGlyphs" fill="#000">10:17</text>
<text x="483.40" y="624.09" font-size="6.2" text-anchor="middle" textLength="12.65" lengthAdjust="spacingAndGlyphs" fill="#000">13:17</text>
<text x="507.40" y="624.09" font-size="6.2" text-anchor="middle" textLength="12.65" lengthAdjust="spacingAndGlyphs" fill="#000">16:17</text>
<text x="20.00" y="632.20" font-size="6.3" textLength="79.40" lengthAdjust="spacingAndGlyphs" fill="#000">SUCHA I/ ZAMEK CZOCHA 11</text>
<g clip-path="url(#ck2)">
<text x="238.90" y="632.20" font-size="6.5" text-anchor="end" textLength="15.80" lengthAdjust="spacingAndGlyphs" fill="#000">2,000</text>
</g>
<g clip-path="url(#cs2)">
<text x="269.30" y="632.20" font-size="6.5" text-anchor="end" textLength="18.40" lengthAdjust="spacingAndGlyphs" fill="#000">22,000</text>
</g>
<text x="291.80" y="632.20" font-size="6.2" text-anchor="middle" textLength="11.60" lengthAdjust="spacingAndGlyphs" fill="#000">40,0</text>
<text x="341.50" y="632.20" font-size="6.2" text-anchor="middle" textLength="11.60" lengthAdjust="spacingAndGlyphs" fill="#000">0:03</text>
<text x="394.65" y="632.20" font-size="6.2" text-anchor="middle" textLength="11.60" lengthAdjust="spacingAndGlyphs" fill="#000">0:03</text>
<text x="435.90" y="632.20" font-size="6.2" text-anchor="middle" textLength="11.15" lengthAdjust="spacingAndGlyphs" fill="#000">6:50</text>
<text x="458.10" y="632.20" font-size="6.2" text-anchor="middle" textLength="13.50" lengthAdjust="spacingAndGlyphs" fill="#000">10:20</text>
<text x="483.40" y="632.20" font-size="6.2" text-anchor="middle" textLength="13.50" lengthAdjust="spacingAndGlyphs" fill="#000">13:20</text>
<text x="507.40" y="632.20" font-size="6.2" text-anchor="middle" textLength="13.50" lengthAdjust="spacingAndGlyphs" fill="#000">16:20</text>
<text x="20.00" y="640.31" font-size="6.3" textLength="144.10" lengthAdjust="spacingAndGlyphs" fill="#000">LEŚNA, UL. BAWOROWO DWORZEC AUTOBUSOWY I</text>
<g clip-path="url(#ck2)">
<text x="238.90" y="640.31" font-size="6.5" text-anchor="end" textLength="15.80" lengthAdjust="spacingAndGlyphs" fill="#000">3,000</text>
</g>
<g clip-path="url(#cs2)">
<text x="269.30" y="640.31" font-size="6.5" text-anchor="end" textLength="18.40" lengthAdjust="spacingAndGlyphs" fill="#000">25,000</text>
</g>
<text x="291.80" y="640.31" font-size="6.2" text-anchor="middle" textLength="11.60" lengthAdjust="spacingAndGlyphs" fill="#000">36,0</text>
<text x="341.50" y="640.31" font-size="6.2" text-anchor="middle" textLength="11.60" lengthAdjust="spacingAndGlyphs" fill="#000">0:05</text>
<text x="394.65" y="640.31" font-size="6.2" text-anchor="middle" textLength="11.60" lengthAdjust="spacingAndGlyphs" fill="#000">0:05</text>
<text x="435.90" y="640.31" font-size="6.2" text-anchor="middle" textLength="11.15" lengthAdjust="spacingAndGlyphs" fill="#000">6:55</text>
<text x="458.10" y="640.31" font-size="6.2" text-anchor="middle" textLength="13.50" lengthAdjust="spacingAndGlyphs" fill="#000">10:25</text>
<text x="483.40" y="640.31" font-size="6.2" text-anchor="middle" textLength="13.50" lengthAdjust="spacingAndGlyphs" fill="#000">13:25</text>
<text x="507.40" y="640.31" font-size="6.2" text-anchor="middle" textLength="13.50" lengthAdjust="spacingAndGlyphs" fill="#000">16:25</text>
<text x="20.00" y="648.43" font-size="6.3" textLength="67.20" lengthAdjust="spacingAndGlyphs" fill="#000">LEŚNA - BAWOROWO 17</text>
<g clip-path="url(#ck2)">
<text x="238.90" y="648.43" font-size="6.5" text-anchor="end" textLength="15.80" lengthAdjust="spacingAndGlyphs" fill="#000">1,000</text>
</g>
<g clip-path="url(#cs2)">
<text x="269.30" y="648.43" font-size="6.5" text-anchor="end" textLength="18.40" lengthAdjust="spacingAndGlyphs" fill="#000">26,000</text>
</g>
<text x="291.80" y="648.43" font-size="6.2" text-anchor="middle" textLength="11.60" lengthAdjust="spacingAndGlyphs" fill="#000">30,0</text>
<text x="341.50" y="648.43" font-size="6.2" text-anchor="middle" textLength="11.60" lengthAdjust="spacingAndGlyphs" fill="#000">0:02</text>
<text x="394.65" y="648.43" font-size="6.2" text-anchor="middle" textLength="11.60" lengthAdjust="spacingAndGlyphs" fill="#000">0:02</text>
<text x="435.90" y="648.43" font-size="6.2" text-anchor="middle" textLength="11.15" lengthAdjust="spacingAndGlyphs" fill="#000">6:57</text>
<text x="458.10" y="648.43" font-size="6.2" text-anchor="middle" textLength="13.50" lengthAdjust="spacingAndGlyphs" fill="#000">10:27</text>
<text x="483.40" y="648.43" font-size="6.2" text-anchor="middle" textLength="13.50" lengthAdjust="spacingAndGlyphs" fill="#000">13:27</text>
<text x="507.40" y="648.43" font-size="6.2" text-anchor="middle" textLength="13.50" lengthAdjust="spacingAndGlyphs" fill="#000">16:27</text>
<text x="20.00" y="656.54" font-size="6.3" textLength="108.30" lengthAdjust="spacingAndGlyphs" fill="#000">KOŚCIELNIKI GÓRNE - SZYSZKOWA 15</text>
<g clip-path="url(#ck2)">
<text x="238.90" y="656.54" font-size="6.5" text-anchor="end" textLength="15.80" lengthAdjust="spacingAndGlyphs" fill="#000">2,000</text>
</g>
<g clip-path="url(#cs2)">
<text x="269.30" y="656.54" font-size="6.5" text-anchor="end" textLength="18.40" lengthAdjust="spacingAndGlyphs" fill="#000">28,000</text>
</g>
<text x="291.80" y="656.54" font-size="6.2" text-anchor="middle" textLength="11.60" lengthAdjust="spacingAndGlyphs" fill="#000">40,0</text>
<text x="341.50" y="656.54" font-size="6.2" text-anchor="middle" textLength="11.60" lengthAdjust="spacingAndGlyphs" fill="#000">0:03</text>
<text x="394.65" y="656.54" font-size="6.2" text-anchor="middle" textLength="11.60" lengthAdjust="spacingAndGlyphs" fill="#000">0:03</text>
<text x="435.90" y="656.54" font-size="6.2" text-anchor="middle" textLength="11.15" lengthAdjust="spacingAndGlyphs" fill="#000">7:00</text>
<text x="458.10" y="656.54" font-size="6.2" text-anchor="middle" textLength="13.50" lengthAdjust="spacingAndGlyphs" fill="#000">10:30</text>
<text x="483.40" y="656.54" font-size="6.2" text-anchor="middle" textLength="13.50" lengthAdjust="spacingAndGlyphs" fill="#000">13:30</text>
<text x="507.40" y="656.54" font-size="6.2" text-anchor="middle" textLength="13.50" lengthAdjust="spacingAndGlyphs" fill="#000">16:30</text>
<text x="20.00" y="664.65" font-size="6.3" textLength="103.40" lengthAdjust="spacingAndGlyphs" fill="#000">KOŚCIELNIKI ŚREDNIE - KOŚCIÓŁ 11</text>
<g clip-path="url(#ck2)">
<text x="238.90" y="664.65" font-size="6.5" text-anchor="end" textLength="15.80" lengthAdjust="spacingAndGlyphs" fill="#000">3,000</text>
</g>
<g clip-path="url(#cs2)">
<text x="269.30" y="664.65" font-size="6.5" text-anchor="end" textLength="18.40" lengthAdjust="spacingAndGlyphs" fill="#000">31,000</text>
</g>
<text x="291.80" y="664.65" font-size="6.2" text-anchor="middle" textLength="11.60" lengthAdjust="spacingAndGlyphs" fill="#000">45,0</text>
<text x="341.50" y="664.65" font-size="6.2" text-anchor="middle" textLength="11.60" lengthAdjust="spacingAndGlyphs" fill="#000">0:04</text>
<text x="394.65" y="664.65" font-size="6.2" text-anchor="middle" textLength="11.60" lengthAdjust="spacingAndGlyphs" fill="#000">0:04</text>
<text x="435.90" y="664.65" font-size="6.2" text-anchor="middle" textLength="11.15" lengthAdjust="spacingAndGlyphs" fill="#000">7:04</text>
<text x="458.10" y="664.65" font-size="6.2" text-anchor="middle" textLength="13.50" lengthAdjust="spacingAndGlyphs" fill="#000">10:34</text>
<text x="483.40" y="664.65" font-size="6.2" text-anchor="middle" textLength="13.50" lengthAdjust="spacingAndGlyphs" fill="#000">13:34</text>
<text x="507.40" y="664.65" font-size="6.2" text-anchor="middle" textLength="13.50" lengthAdjust="spacingAndGlyphs" fill="#000">16:34</text>
<text x="20.00" y="672.76" font-size="6.3" textLength="99.40" lengthAdjust="spacingAndGlyphs" fill="#000">KOŚCIELNIKI DOLNE - KOŚCIÓŁ 09</text>
<g clip-path="url(#ck2)">
<text x="238.90" y="672.76" font-size="6.5" text-anchor="end" textLength="15.80" lengthAdjust="spacingAndGlyphs" fill="#000">2,000</text>
</g>
<g clip-path="url(#cs2)">
<text x="269.30" y="672.76" font-size="6.5" text-anchor="end" textLength="18.40" lengthAdjust="spacingAndGlyphs" fill="#000">33,000</text>
</g>
<text x="291.80" y="672.76" font-size="6.2" text-anchor="middle" textLength="11.60" lengthAdjust="spacingAndGlyphs" fill="#000">40,0</text>
<text x="341.50" y="672.76" font-size="6.2" text-anchor="middle" textLength="11.60" lengthAdjust="spacingAndGlyphs" fill="#000">0:03</text>
<text x="394.65" y="672.76" font-size="6.2" text-anchor="middle" textLength="11.60" lengthAdjust="spacingAndGlyphs" fill="#000">0:03</text>
<text x="435.90" y="672.76" font-size="6.2" text-anchor="middle" textLength="11.15" lengthAdjust="spacingAndGlyphs" fill="#000">7:07</text>
<text x="458.10" y="672.76" font-size="6.2" text-anchor="middle" textLength="13.50" lengthAdjust="spacingAndGlyphs" fill="#000">10:37</text>
<text x="483.40" y="672.76" font-size="6.2" text-anchor="middle" textLength="13.50" lengthAdjust="spacingAndGlyphs" fill="#000">13:37</text>
<text x="507.40" y="672.76" font-size="6.2" text-anchor="middle" textLength="13.50" lengthAdjust="spacingAndGlyphs" fill="#000">16:37</text>
<text x="20.00" y="680.87" font-size="6.3" textLength="42.80" lengthAdjust="spacingAndGlyphs" fill="#000">KOŚCIELNIK 07</text>
<g clip-path="url(#ck2)">
<text x="238.90" y="680.87" font-size="6.5" text-anchor="end" textLength="15.80" lengthAdjust="spacingAndGlyphs" fill="#000">1,000</text>
</g>
<g clip-path="url(#cs2)">
<text x="269.30" y="680.87" font-size="6.5" text-anchor="end" textLength="18.40" lengthAdjust="spacingAndGlyphs" fill="#000">34,000</text>
</g>
<text x="291.80" y="680.87" font-size="6.2" text-anchor="middle" textLength="11.60" lengthAdjust="spacingAndGlyphs" fill="#000">30,0</text>
<text x="341.50" y="680.87" font-size="6.2" text-anchor="middle" textLength="11.60" lengthAdjust="spacingAndGlyphs" fill="#000">0:02</text>
<text x="394.65" y="680.87" font-size="6.2" text-anchor="middle" textLength="11.60" lengthAdjust="spacingAndGlyphs" fill="#000">0:02</text>
<text x="435.90" y="680.87" font-size="6.2" text-anchor="middle" textLength="11.15" lengthAdjust="spacingAndGlyphs" fill="#000">7:09</text>
<text x="458.10" y="680.87" font-size="6.2" text-anchor="middle" textLength="13.50" lengthAdjust="spacingAndGlyphs" fill="#000">10:39</text>
<text x="483.40" y="680.87" font-size="6.2" text-anchor="middle" textLength="13.50" lengthAdjust="spacingAndGlyphs" fill="#000">13:39</text>
<text x="507.40" y="680.87" font-size="6.2" text-anchor="middle" textLength="13.50" lengthAdjust="spacingAndGlyphs" fill="#000">16:39</text>
<text x="20.00" y="688.98" font-size="6.3" textLength="96.10" lengthAdjust="spacingAndGlyphs" fill="#000">LUBAŃ/KSIĘGINKI - STAWOWA 05</text>
<g clip-path="url(#ck2)">
<text x="238.90" y="688.98" font-size="6.5" text-anchor="end" textLength="15.80" lengthAdjust="spacingAndGlyphs" fill="#000">1,000</text>
</g>
<g clip-path="url(#cs2)">
<text x="269.30" y="688.98" font-size="6.5" text-anchor="end" textLength="18.40" lengthAdjust="spacingAndGlyphs" fill="#000">35,000</text>
</g>
<text x="291.80" y="688.98" font-size="6.2" text-anchor="middle" textLength="11.60" lengthAdjust="spacingAndGlyphs" fill="#000">30,0</text>
<text x="341.50" y="688.98" font-size="6.2" text-anchor="middle" textLength="11.60" lengthAdjust="spacingAndGlyphs" fill="#000">0:02</text>
<text x="394.65" y="688.98" font-size="6.2" text-anchor="middle" textLength="11.60" lengthAdjust="spacingAndGlyphs" fill="#000">0:02</text>
<text x="435.90" y="688.98" font-size="6.2" text-anchor="middle" textLength="9.45" lengthAdjust="spacingAndGlyphs" fill="#000">7:11</text>
<text x="458.10" y="688.98" font-size="6.2" text-anchor="middle" textLength="12.65" lengthAdjust="spacingAndGlyphs" fill="#000">10:41</text>
<text x="483.40" y="688.98" font-size="6.2" text-anchor="middle" textLength="12.65" lengthAdjust="spacingAndGlyphs" fill="#000">13:41</text>
<text x="507.40" y="688.98" font-size="6.2" text-anchor="middle" textLength="12.65" lengthAdjust="spacingAndGlyphs" fill="#000">16:41</text>
<text x="20.00" y="697.09" font-size="6.3" textLength="71.30" lengthAdjust="spacingAndGlyphs" fill="#000">LUBAŃ/LEŚNA/ BEMA 03</text>
<g clip-path="url(#ck2)">
<text x="238.90" y="697.09" font-size="6.5" text-anchor="end" textLength="15.80" lengthAdjust="spacingAndGlyphs" fill="#000">0,600</text>
</g>
<g clip-path="url(#cs2)">
<text x="269.30" y="697.09" font-size="6.5" text-anchor="end" textLength="18.40" lengthAdjust="spacingAndGlyphs" fill="#000">35,600</text>
</g>
<text x="291.80" y="697.09" font-size="6.2" text-anchor="middle" textLength="11.60" lengthAdjust="spacingAndGlyphs" fill="#000">34,0</text>
<text x="341.50" y="697.09" font-size="6.2" text-anchor="middle" textLength="10.70" lengthAdjust="spacingAndGlyphs" fill="#000">0:01</text>
<text x="394.65" y="697.09" font-size="6.2" text-anchor="middle" textLength="10.70" lengthAdjust="spacingAndGlyphs" fill="#000">0:01</text>
<text x="435.90" y="697.09" font-size="6.2" text-anchor="middle" textLength="10.30" lengthAdjust="spacingAndGlyphs" fill="#000">7:12</text>
<text x="458.10" y="697.09" font-size="6.2" text-anchor="middle" textLength="13.50" lengthAdjust="spacingAndGlyphs" fill="#000">10:42</text>
<text x="483.40" y="697.09" font-size="6.2" text-anchor="middle" textLength="13.50" lengthAdjust="spacingAndGlyphs" fill="#000">13:42</text>
<text x="507.40" y="697.09" font-size="6.2" text-anchor="middle" textLength="13.50" lengthAdjust="spacingAndGlyphs" fill="#000">16:42</text>
<text x="20.00" y="705.20" font-size="6.3" textLength="97.70" lengthAdjust="spacingAndGlyphs" fill="#000">LUBAŃ/KOŚCIUSZKI/ ZAMKOWA 01</text>
<g clip-path="url(#ck2)">
<text x="238.90" y="705.20" font-size="6.5" text-anchor="end" textLength="15.80" lengthAdjust="spacingAndGlyphs" fill="#000">0,500</text>
</g>
<g clip-path="url(#cs2)">
<text x="269.30" y="705.20" font-size="6.5" text-anchor="end" textLength="18.40" lengthAdjust="spacingAndGlyphs" fill="#000">36,100</text>
</g>
<text x="291.80" y="705.20" font-size="6.2" text-anchor="middle" textLength="11.60" lengthAdjust="spacingAndGlyphs" fill="#000">30,0</text>
<text x="341.50" y="705.20" font-size="6.2" text-anchor="middle" textLength="10.70" lengthAdjust="spacingAndGlyphs" fill="#000">0:01</text>
<text x="394.65" y="705.20" font-size="6.2" text-anchor="middle" textLength="10.70" lengthAdjust="spacingAndGlyphs" fill="#000">0:01</text>
<text x="435.90" y="705.20" font-size="6.2" text-anchor="middle" textLength="10.30" lengthAdjust="spacingAndGlyphs" fill="#000">7:13</text>
<text x="458.10" y="705.20" font-size="6.2" text-anchor="middle" textLength="13.50" lengthAdjust="spacingAndGlyphs" fill="#000">10:43</text>
<text x="483.40" y="705.20" font-size="6.2" text-anchor="middle" textLength="13.50" lengthAdjust="spacingAndGlyphs" fill="#000">13:43</text>
<text x="507.40" y="705.20" font-size="6.2" text-anchor="middle" textLength="13.50" lengthAdjust="spacingAndGlyphs" fill="#000">16:43</text>
<text x="20.00" y="713.31" font-size="6.3" textLength="93.70" lengthAdjust="spacingAndGlyphs" fill="#000">LUBAŃ D.A. ul Starych Szeregów</text>
<g clip-path="url(#ck2)">
<text x="238.90" y="713.31" font-size="6.5" text-anchor="end" textLength="15.80" lengthAdjust="spacingAndGlyphs" fill="#000">0,900</text>
</g>
<g clip-path="url(#cs2)">
<text x="269.30" y="713.31" font-size="6.5" text-anchor="end" textLength="18.40" lengthAdjust="spacingAndGlyphs" fill="#000">37,000</text>
</g>
<text x="291.80" y="713.31" font-size="6.2" text-anchor="middle" textLength="11.60" lengthAdjust="spacingAndGlyphs" fill="#000">27,0</text>
<text x="341.50" y="713.31" font-size="6.2" text-anchor="middle" textLength="11.60" lengthAdjust="spacingAndGlyphs" fill="#000">0:02</text>
<text x="394.65" y="713.31" font-size="6.2" text-anchor="middle" textLength="11.60" lengthAdjust="spacingAndGlyphs" fill="#000">0:02</text>
<text x="435.90" y="713.31" font-size="6.2" text-anchor="middle" textLength="10.30" lengthAdjust="spacingAndGlyphs" fill="#000">7:15</text>
<text x="458.10" y="713.31" font-size="6.2" text-anchor="middle" textLength="13.50" lengthAdjust="spacingAndGlyphs" fill="#000">10:45</text>
<text x="483.40" y="713.31" font-size="6.2" text-anchor="middle" textLength="13.50" lengthAdjust="spacingAndGlyphs" fill="#000">13:45</text>
<text x="507.40" y="713.31" font-size="6.2" text-anchor="middle" textLength="13.50" lengthAdjust="spacingAndGlyphs" fill="#000">16:45</text>
<text x="20.00" y="721.42" font-size="6.3" textLength="92.90" lengthAdjust="spacingAndGlyphs" fill="#000">LUBAŃ/ KOPERNIKA-SZKOŁA 10</text>
<g clip-path="url(#ck2)">
<text x="238.90" y="721.42" font-size="6.5" text-anchor="end" textLength="15.80" lengthAdjust="spacingAndGlyphs" fill="#000">1,300</text>
</g>
<g clip-path="url(#cs2)">
<text x="269.30" y="721.42" font-size="6.5" text-anchor="end" textLength="18.40" lengthAdjust="spacingAndGlyphs" fill="#000">38,300</text>
</g>
<text x="291.80" y="721.42" font-size="6.2" text-anchor="middle" textLength="11.60" lengthAdjust="spacingAndGlyphs" fill="#000">24,0</text>
<text x="341.50" y="721.42" font-size="6.2" text-anchor="middle" textLength="11.60" lengthAdjust="spacingAndGlyphs" fill="#000">0:03</text>
<text x="394.65" y="721.42" font-size="6.2" text-anchor="middle" textLength="11.60" lengthAdjust="spacingAndGlyphs" fill="#000">0:03</text>
<text x="435.90" y="721.42" font-size="6.2" text-anchor="middle" textLength="10.30" lengthAdjust="spacingAndGlyphs" fill="#000">7:18</text>
<text x="458.10" y="721.42" font-size="6.2" text-anchor="middle" textLength="13.50" lengthAdjust="spacingAndGlyphs" fill="#000">10:48</text>
<text x="483.40" y="721.42" font-size="6.2" text-anchor="middle" textLength="13.50" lengthAdjust="spacingAndGlyphs" fill="#000">13:48</text>
<text x="507.40" y="721.42" font-size="6.2" text-anchor="middle" textLength="13.50" lengthAdjust="spacingAndGlyphs" fill="#000">16:48</text>
<text x="20.00" y="729.54" font-size="6.3" textLength="88.70" lengthAdjust="spacingAndGlyphs" fill="#000">LUBAŃ W. ŁOKIETKA-SZKOŁA</text>
<g clip-path="url(#ck2)">
<text x="238.90" y="729.54" font-size="6.5" text-anchor="end" textLength="15.80" lengthAdjust="spacingAndGlyphs" fill="#000">1,400</text>
</g>
<g clip-path="url(#cs2)">
<text x="269.30" y="729.54" font-size="6.5" text-anchor="end" textLength="18.40" lengthAdjust="spacingAndGlyphs" fill="#000">39,700</text>
</g>
<text x="291.80" y="729.54" font-size="6.2" text-anchor="middle" textLength="11.60" lengthAdjust="spacingAndGlyphs" fill="#000">28,0</text>
<text x="341.50" y="729.54" font-size="6.2" text-anchor="middle" textLength="11.60" lengthAdjust="spacingAndGlyphs" fill="#000">0:03</text>
<text x="394.65" y="729.54" font-size="6.2" text-anchor="middle" textLength="11.60" lengthAdjust="spacingAndGlyphs" fill="#000">0:03</text>
<text x="435.90" y="729.54" font-size="6.2" text-anchor="middle" textLength="10.30" lengthAdjust="spacingAndGlyphs" fill="#000">7:21</text>
<text x="458.10" y="729.54" font-size="6.2" text-anchor="middle" textLength="12.65" lengthAdjust="spacingAndGlyphs" fill="#000">10:51</text>
<text x="483.40" y="729.54" font-size="6.2" text-anchor="middle" textLength="12.65" lengthAdjust="spacingAndGlyphs" fill="#000">13:51</text>
<text x="507.40" y="729.54" font-size="6.2" text-anchor="middle" textLength="12.65" lengthAdjust="spacingAndGlyphs" fill="#000">16:51</text>
<text x="20.00" y="737.65" font-size="6.3" textLength="40.50" lengthAdjust="spacingAndGlyphs" font-style="italic" fill="#000">Długość kursu</text>
<text x="435.90" y="737.65" font-size="6.2" text-anchor="middle" textLength="11.00" lengthAdjust="spacingAndGlyphs" font-style="italic" fill="#000">39,7</text>
<text x="458.10" y="737.65" font-size="6.2" text-anchor="middle" textLength="11.00" lengthAdjust="spacingAndGlyphs" font-style="italic" fill="#000">39,7</text>
<text x="483.40" y="737.65" font-size="6.2" text-anchor="middle" textLength="11.00" lengthAdjust="spacingAndGlyphs" font-style="italic" fill="#000">39,7</text>
<text x="507.40" y="737.65" font-size="6.2" text-anchor="middle" textLength="11.00" lengthAdjust="spacingAndGlyphs" font-style="italic" fill="#000">39,7</text>
<text x="19.50" y="761.10" font-size="6.4" textLength="143.00" lengthAdjust="spacingAndGlyphs" fill="#000" stroke-width="0.12">D - kursuje od poniedziałku do piątku oprócz świąt</text>
<text x="19.50" y="770.70" font-size="6.4" textLength="244.30" lengthAdjust="spacingAndGlyphs" fill="#000" stroke-width="0.12">d - nie kursuje w dniu 1.I, w pierwszy i drugi dzień Świąt Wielkanocnych oraz w dniach</text>
<text x="19.50" y="778.00" font-size="6.4" textLength="26.50" lengthAdjust="spacingAndGlyphs" fill="#000" stroke-width="0.12">25 i 26.XII</text>
</g>
</g>
</svg>
</body>
</html>
